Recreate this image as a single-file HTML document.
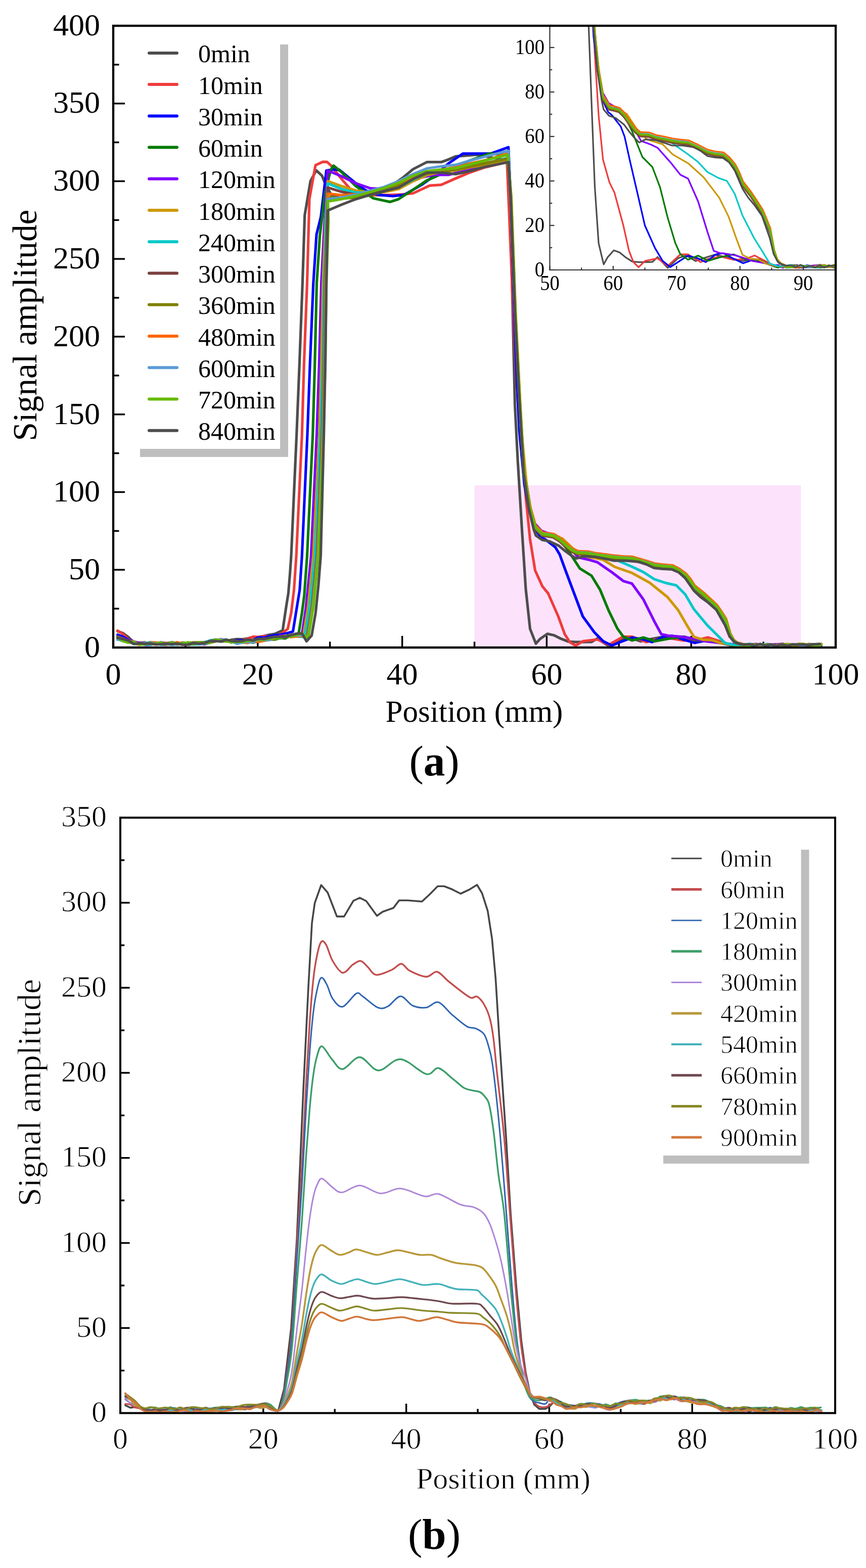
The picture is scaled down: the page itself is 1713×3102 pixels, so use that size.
<!DOCTYPE html><html><head><meta charset="utf-8"><title>Signal amplitude vs position</title><style>html,body{margin:0;padding:0;background:#fff;width:1713px;height:3102px;overflow:hidden}</style></head><body><svg width="1713" height="3102" viewBox="0 0 1713 3102" style="display:block">
<rect width="1713" height="3102" fill="#fff"/>
<rect x="938.5" y="960.0" width="645.9" height="321.0" fill="#fce3fb"/>
<rect x="224.0" y="51.0" width="1429.0" height="1230.0" fill="none" stroke="#000" stroke-width="4.2"/>
<g stroke="#000" stroke-width="3.4">
<line x1="224.0" y1="1204.1" x2="235.5" y2="1204.1"/>
<line x1="224.0" y1="1127.2" x2="247.0" y2="1127.2"/>
<line x1="224.0" y1="1050.4" x2="235.5" y2="1050.4"/>
<line x1="224.0" y1="973.5" x2="247.0" y2="973.5"/>
<line x1="224.0" y1="896.6" x2="235.5" y2="896.6"/>
<line x1="224.0" y1="819.8" x2="247.0" y2="819.8"/>
<line x1="224.0" y1="742.9" x2="235.5" y2="742.9"/>
<line x1="224.0" y1="666.0" x2="247.0" y2="666.0"/>
<line x1="224.0" y1="589.1" x2="235.5" y2="589.1"/>
<line x1="224.0" y1="512.2" x2="247.0" y2="512.2"/>
<line x1="224.0" y1="435.4" x2="235.5" y2="435.4"/>
<line x1="224.0" y1="358.5" x2="247.0" y2="358.5"/>
<line x1="224.0" y1="281.6" x2="235.5" y2="281.6"/>
<line x1="224.0" y1="204.8" x2="247.0" y2="204.8"/>
<line x1="224.0" y1="127.9" x2="235.5" y2="127.9"/>
<line x1="366.9" y1="1281.0" x2="366.9" y2="1269.5"/>
<line x1="509.8" y1="1281.0" x2="509.8" y2="1258.0"/>
<line x1="652.7" y1="1281.0" x2="652.7" y2="1269.5"/>
<line x1="795.6" y1="1281.0" x2="795.6" y2="1258.0"/>
<line x1="938.5" y1="1281.0" x2="938.5" y2="1269.5"/>
<line x1="1081.4" y1="1281.0" x2="1081.4" y2="1258.0"/>
<line x1="1224.3" y1="1281.0" x2="1224.3" y2="1269.5"/>
<line x1="1367.2" y1="1281.0" x2="1367.2" y2="1258.0"/>
<line x1="1510.1" y1="1281.0" x2="1510.1" y2="1269.5"/>
</g>
<g fill="none" stroke-width="5.2" stroke-linejoin="round" stroke-linecap="round">
<polyline stroke="#4d4d4d" points="232.6,1248.7 243.3,1252.7 254.0,1260.6 264.7,1270.7 275.4,1273.0 286.2,1273.3 296.9,1272.3 307.6,1271.6 318.3,1275.0 329.0,1275.3 339.7,1271.4 350.5,1273.3 361.2,1271.7 371.9,1275.5 382.6,1273.3 393.3,1271.9 404.1,1273.9 414.8,1267.4 425.5,1265.5 436.2,1269.2 446.9,1268.4 457.6,1265.9 468.4,1264.3 479.1,1264.7 489.8,1263.1 500.5,1260.2 511.2,1260.7 521.9,1258.3 532.7,1255.8 543.4,1254.1 559.1,1247.2 566.0,1201.0 570.4,1173.4 573.7,1133.4 576.0,1099.6 586.7,859.7 592.3,721.4 598.4,559.9 602.7,426.1 614.1,358.5 625.5,337.0 637.0,347.7 644.1,365.3 655.6,386.2 674.1,392.3 695.6,390.8 724.1,384.6 752.7,377.0 777.0,365.6 795.6,352.4 817.0,334.8 844.2,320.7 872.8,320.7 887.1,315.5 901.3,309.3 918.5,308.1 942.8,306.2 967.1,310.8 1002.8,317.0 1007.1,358.5 1010.0,438.5 1018.5,801.3 1024.2,912.0 1032.8,1053.5 1040.0,1165.4 1048.5,1244.1 1060.0,1273.3 1068.5,1263.8 1082.8,1253.9 1095.7,1256.7 1110.0,1263.8 1124.3,1269.3 1138.6,1270.2 1152.8,1270.2 1170.0,1269.9 1181.4,1263.2 1204.3,1278.2 1227.2,1265.0 1245.7,1261.0 1267.2,1268.7 1288.6,1264.1 1310.0,1260.1 1331.5,1262.5 1352.9,1265.6 1374.3,1268.7 1395.8,1265.6 1417.2,1267.2 1438.7,1273.3 1460.1,1276.4 1471.5,1276.3 1482.2,1275.8 1493.0,1274.3 1503.7,1276.2 1514.4,1276.0 1525.1,1275.7 1535.8,1277.4 1546.5,1276.0 1557.3,1275.5 1568.0,1274.8 1578.7,1277.8 1589.4,1276.9 1600.1,1277.8 1610.8,1274.7 1621.6,1275.2"/>
<polyline stroke="#f03c3c" points="232.6,1247.7 243.3,1254.4 254.0,1265.4 264.7,1271.9 275.4,1271.4 286.2,1271.8 296.9,1272.2 307.6,1273.9 318.3,1272.5 329.0,1272.5 339.7,1272.6 350.5,1274.7 361.2,1273.3 371.9,1273.5 382.6,1271.9 393.3,1270.6 404.1,1270.4 414.8,1269.3 425.5,1267.7 436.2,1268.0 446.9,1268.6 457.6,1269.0 468.4,1267.6 479.1,1266.3 489.8,1264.0 500.5,1259.7 511.2,1260.1 521.9,1258.5 532.7,1258.6 543.4,1258.3 554.1,1255.3 569.2,1244.1 576.0,1212.4 581.5,1167.2 586.1,1099.6 597.3,859.7 601.3,721.4 607.5,559.9 612.0,393.6 624.1,326.8 638.4,320.1 647.0,320.4 655.6,328.4 674.1,352.4 695.6,377.0 724.1,386.2 752.7,386.2 777.0,385.3 795.6,384.6 817.0,382.5 849.9,367.1 872.8,365.6 901.3,353.0 928.5,341.6 957.1,331.7 1002.8,320.7 1007.1,420.0 1017.1,666.0 1025.7,819.8 1032.8,884.3 1040.0,982.7 1048.5,1067.0 1058.5,1128.5 1072.8,1159.8 1084.3,1174.0 1104.3,1219.5 1117.1,1254.6 1127.1,1270.2 1138.6,1277.3 1152.8,1268.7 1181.4,1265.0 1204.3,1275.5 1232.9,1259.5 1250.0,1259.5 1278.6,1270.2 1295.8,1265.6 1324.3,1262.5 1352.9,1267.2 1381.5,1265.6 1400.1,1261.0 1424.4,1268.7 1445.8,1276.4 1457.2,1276.2 1467.9,1275.4 1478.7,1275.4 1489.4,1277.6 1500.1,1278.2 1510.8,1276.6 1521.5,1277.1 1532.2,1274.7 1543.0,1275.3 1553.7,1275.6 1564.4,1275.8 1575.1,1275.4 1585.8,1277.6 1596.6,1276.3 1607.3,1277.5 1618.0,1274.3"/>
<polyline stroke="#0000ff" points="232.6,1255.8 243.3,1259.7 254.0,1265.8 264.7,1270.0 275.4,1272.4 286.2,1275.1 296.9,1275.4 307.6,1271.3 318.3,1274.2 329.0,1274.3 339.7,1270.6 350.5,1273.2 361.2,1271.3 371.9,1273.1 382.6,1272.3 393.3,1274.7 404.1,1271.9 414.8,1267.8 425.5,1267.4 436.2,1265.7 446.9,1265.8 457.6,1269.7 468.4,1267.4 479.1,1266.7 489.8,1266.6 500.5,1266.4 511.2,1260.9 521.9,1261.4 532.7,1258.7 543.4,1256.5 554.1,1255.9 564.8,1253.4 579.4,1249.6 587.3,1201.0 592.8,1167.2 597.3,1099.6 608.0,859.7 613.1,721.4 619.8,559.9 626.1,463.7 634.8,428.6 645.6,337.3 659.8,335.4 671.3,336.1 704.1,362.8 724.1,377.0 747.0,385.3 777.0,388.0 799.9,385.3 834.2,365.6 861.3,346.2 887.1,323.4 915.6,303.8 942.8,303.8 971.4,303.8 1005.7,291.2 1010.0,389.2 1018.5,666.0 1027.1,850.5 1037.1,958.1 1047.1,1010.4 1058.5,1047.3 1070.0,1062.7 1078.5,1067.0 1098.5,1082.7 1107.1,1096.8 1118.6,1128.5 1135.7,1174.0 1152.8,1219.5 1175.7,1250.9 1192.9,1268.4 1210.0,1277.0 1227.2,1270.2 1250.0,1261.3 1272.9,1265.0 1290.0,1270.2 1312.9,1259.5 1330.0,1257.9 1352.9,1265.6 1374.3,1271.8 1395.8,1267.2 1424.4,1271.8 1445.8,1276.4 1457.2,1277.1 1467.9,1275.3 1478.7,1275.3 1489.4,1274.6 1500.1,1277.4 1510.8,1277.2 1521.5,1277.6 1532.2,1277.3 1543.0,1275.1 1553.7,1277.7 1564.4,1275.9 1575.1,1277.3 1585.8,1277.0 1596.6,1276.4 1607.3,1274.6 1618.0,1275.6"/>
<polyline stroke="#007a00" points="232.6,1258.9 243.3,1264.0 254.0,1267.0 264.7,1272.6 275.4,1275.1 286.2,1273.5 296.9,1270.9 307.6,1271.5 318.3,1271.7 329.0,1274.4 339.7,1272.8 350.5,1274.1 361.2,1274.6 371.9,1274.9 382.6,1274.4 393.3,1270.9 404.1,1271.0 414.8,1268.1 425.5,1266.0 436.2,1268.4 446.9,1268.4 457.6,1268.7 468.4,1270.3 479.1,1269.1 489.8,1268.4 500.5,1271.4 511.2,1267.4 521.9,1265.6 532.7,1265.0 543.4,1265.2 554.1,1262.3 564.8,1262.8 575.5,1257.2 590.5,1255.2 597.3,1212.4 601.8,1178.6 607.5,1099.6 618.7,859.7 622.7,721.4 626.5,559.9 632.7,466.1 642.7,383.1 654.1,336.1 659.8,327.8 675.6,340.4 704.1,368.3 738.4,392.3 771.3,399.4 788.5,393.9 817.0,375.4 844.2,357.0 872.8,344.4 901.3,330.5 928.5,317.9 968.5,303.8 1005.7,306.5 1010.0,389.2 1020.0,666.0 1030.0,850.5 1040.0,948.9 1050.0,1010.4 1061.4,1047.3 1078.5,1059.6 1095.7,1062.7 1112.8,1075.0 1124.3,1089.7 1147.1,1124.8 1170.0,1138.9 1187.1,1166.9 1204.3,1208.7 1221.4,1243.8 1232.9,1259.5 1250.0,1266.9 1272.9,1261.3 1295.8,1268.4 1324.3,1263.2 1352.9,1259.5 1381.5,1266.9 1410.1,1268.7 1438.7,1274.8 1452.9,1277.8 1463.7,1275.2 1474.4,1275.4 1485.1,1274.2 1495.8,1277.1 1506.5,1277.1 1517.2,1275.1 1528.0,1275.4 1538.7,1276.9 1549.4,1275.3 1560.1,1276.5 1570.8,1274.9 1581.5,1277.7 1592.3,1277.3 1603.0,1274.4 1613.7,1276.7 1624.4,1277.1"/>
<polyline stroke="#8000ff" points="232.6,1260.1 243.3,1263.1 254.0,1266.3 264.7,1269.2 275.4,1271.8 286.2,1270.9 296.9,1275.3 307.6,1273.2 318.3,1270.8 329.0,1272.3 339.7,1271.0 350.5,1274.9 361.2,1273.2 371.9,1274.3 382.6,1272.8 393.3,1272.6 404.1,1275.0 414.8,1271.0 425.5,1268.6 436.2,1264.8 446.9,1265.8 457.6,1270.2 468.4,1268.8 479.1,1271.1 489.8,1267.8 500.5,1269.0 511.2,1268.2 521.9,1262.5 532.7,1264.3 543.4,1262.9 554.1,1257.6 564.8,1256.8 575.5,1258.2 586.3,1253.5 597.0,1257.3 605.3,1201.0 612.0,1133.4 615.3,1099.6 626.5,859.7 631.3,721.4 635.6,559.9 641.3,450.8 648.4,337.6 675.6,348.7 704.1,362.8 732.7,372.6 759.9,373.9 788.5,365.6 831.3,351.4 858.5,345.9 887.1,345.9 928.5,334.8 1005.7,319.1 1010.0,389.2 1018.5,635.2 1028.5,819.8 1038.5,942.8 1047.1,1004.2 1057.1,1035.0 1071.4,1050.4 1088.5,1056.5 1110.0,1068.8 1130.0,1087.3 1144.3,1102.7 1167.1,1107.9 1181.4,1112.2 1210.0,1131.9 1232.9,1149.4 1250.0,1154.6 1272.9,1186.3 1293.9,1228.4 1308.0,1254.6 1321.5,1257.6 1338.6,1258.9 1355.8,1260.7 1372.9,1263.8 1395.8,1268.7 1424.4,1271.8 1438.7,1274.8 1452.9,1274.1 1463.7,1278.2 1474.4,1275.1 1485.1,1277.6 1495.8,1274.0 1506.5,1278.2 1517.2,1274.4 1528.0,1275.3 1538.7,1274.5 1549.4,1273.9 1560.1,1277.2 1570.8,1276.8 1581.5,1275.2 1592.3,1277.0 1603.0,1277.1 1613.7,1277.2 1624.4,1274.5"/>
<polyline stroke="#cc9900" points="232.6,1260.8 243.3,1263.8 254.0,1268.5 264.7,1272.7 275.4,1275.5 286.2,1272.2 296.9,1273.2 307.6,1271.7 318.3,1273.6 329.0,1271.7 339.7,1274.1 350.5,1271.5 361.2,1271.9 371.9,1273.4 382.6,1272.8 393.3,1272.1 404.1,1274.1 414.8,1269.3 425.5,1266.0 436.2,1268.0 446.9,1265.7 457.6,1267.9 468.4,1268.9 479.1,1270.6 489.8,1270.9 500.5,1266.3 511.2,1264.9 521.9,1265.2 532.7,1265.5 543.4,1263.6 554.1,1260.0 564.8,1260.2 575.5,1255.6 586.3,1255.9 599.8,1259.2 609.4,1201.0 619.8,1099.6 631.6,859.7 635.6,721.4 638.8,559.9 644.1,435.4 648.4,358.5 675.6,368.3 704.1,377.0 732.7,380.9 759.9,380.0 788.5,373.9 817.0,358.5 845.6,346.2 874.2,340.0 902.8,337.0 931.4,330.8 967.1,324.7 1004.2,315.5 1010.0,389.2 1021.4,666.0 1031.4,850.5 1041.4,958.1 1050.0,1016.5 1061.4,1047.3 1078.5,1056.5 1095.7,1059.6 1112.8,1065.8 1135.7,1087.3 1158.6,1100.8 1192.9,1107.3 1215.7,1121.4 1250.0,1133.4 1285.0,1152.8 1320.3,1181.1 1341.5,1207.2 1358.9,1237.3 1372.9,1260.1 1390.5,1265.6 1408.6,1266.5 1425.8,1272.4 1445.8,1275.5 1464.4,1276.7 1475.1,1276.2 1485.8,1276.4 1496.5,1276.3 1507.2,1276.5 1518.0,1275.4 1528.7,1277.1 1539.4,1275.5 1550.1,1278.2 1560.8,1276.9 1571.5,1276.8 1582.3,1277.6 1593.0,1275.0 1603.7,1276.9 1614.4,1274.8 1625.1,1274.1"/>
<polyline stroke="#00c8c8" points="232.6,1264.6 243.3,1268.2 254.0,1268.4 264.7,1273.9 275.4,1272.8 286.2,1273.7 296.9,1275.2 307.6,1273.0 318.3,1275.3 329.0,1273.3 339.7,1275.1 350.5,1275.0 361.2,1273.4 371.9,1271.4 382.6,1274.9 393.3,1274.4 404.1,1271.9 414.8,1267.4 425.5,1267.1 436.2,1267.4 446.9,1265.0 457.6,1271.2 468.4,1269.2 479.1,1271.2 489.8,1271.2 500.5,1270.3 511.2,1267.9 521.9,1264.0 532.7,1265.7 543.4,1262.3 554.1,1260.6 564.8,1260.5 575.5,1258.2 586.3,1259.1 602.7,1260.1 612.7,1201.0 623.3,1099.6 634.1,859.7 638.4,721.4 641.3,559.9 645.6,420.0 648.4,362.8 675.6,373.9 704.1,380.9 732.7,381.6 759.9,377.0 788.5,370.8 817.0,355.4 845.6,343.1 874.2,337.0 902.8,333.9 931.4,327.8 967.1,321.6 1004.2,312.4 1010.0,389.2 1018.5,619.9 1027.1,789.0 1035.7,936.6 1045.7,999.6 1057.8,1042.7 1072.1,1056.5 1084.3,1058.1 1094.3,1059.9 1105.7,1066.7 1117.1,1077.1 1130.0,1087.6 1141.4,1093.4 1161.4,1094.0 1177.9,1097.7 1210.0,1103.9 1250.0,1121.1 1272.9,1131.9 1293.9,1145.7 1317.2,1153.4 1337.8,1158.0 1355.3,1175.8 1372.9,1205.7 1399.4,1237.3 1416.9,1254.6 1434.5,1272.4 1451.5,1275.5 1461.5,1276.0 1472.2,1274.8 1482.9,1274.1 1493.7,1277.0 1504.4,1274.9 1515.1,1275.2 1525.8,1275.4 1536.5,1277.8 1547.3,1278.1 1558.0,1276.6 1568.7,1275.0 1579.4,1277.1 1590.1,1276.1 1600.8,1276.9 1611.6,1274.6 1622.3,1274.2"/>
<polyline stroke="#7b3f3f" points="232.6,1265.3 243.3,1265.6 254.0,1269.9 264.7,1273.2 275.4,1273.1 286.2,1273.0 296.9,1273.1 307.6,1273.2 318.3,1274.2 329.0,1274.2 339.7,1272.1 350.5,1273.9 361.2,1272.1 371.9,1271.6 382.6,1271.2 393.3,1270.8 404.1,1273.9 414.8,1270.9 425.5,1266.3 436.2,1266.5 446.9,1268.8 457.6,1268.2 468.4,1269.3 479.1,1268.8 489.8,1271.1 500.5,1269.7 511.2,1269.7 521.9,1263.5 532.7,1265.8 543.4,1261.9 554.1,1261.4 564.8,1259.7 575.5,1258.6 586.3,1255.7 597.0,1255.3 607.0,1261.9 617.0,1201.0 627.0,1099.6 637.0,859.7 640.6,721.4 642.7,559.9 647.0,435.4 648.4,371.1 675.6,379.4 704.1,385.3 732.7,383.1 759.9,377.0 788.5,366.2 817.0,353.9 845.6,343.1 874.2,338.5 902.8,335.4 931.4,329.3 967.1,321.6 1004.2,313.9 1010.0,389.2 1018.5,619.9 1027.1,789.0 1035.7,936.6 1045.7,1002.7 1057.8,1045.8 1072.1,1059.6 1084.3,1061.1 1094.3,1063.0 1105.7,1069.7 1117.1,1080.2 1130.0,1090.7 1141.4,1096.5 1161.4,1097.1 1177.9,1100.8 1195.7,1103.0 1214.3,1105.4 1231.4,1107.0 1250.0,1107.9 1271.5,1114.0 1293.9,1121.1 1310.0,1123.3 1329.0,1124.8 1341.5,1130.9 1355.3,1141.1 1364.3,1151.8 1372.9,1165.1 1390.5,1178.9 1402.9,1190.3 1416.9,1203.5 1425.8,1216.4 1434.5,1230.0 1443.2,1254.9 1450.1,1267.5 1457.2,1272.7 1467.2,1275.2 1471.5,1277.7 1482.2,1277.7 1493.0,1275.7 1503.7,1277.5 1514.4,1277.7 1525.1,1276.2 1535.8,1276.4 1546.5,1277.3 1557.3,1276.5 1568.0,1274.6 1578.7,1277.7 1589.4,1277.4 1600.1,1278.1 1610.8,1277.2 1621.6,1277.8"/>
<polyline stroke="#808000" points="232.6,1262.9 243.3,1265.0 254.0,1269.0 264.7,1271.7 275.4,1273.5 286.2,1270.6 296.9,1274.0 307.6,1274.7 318.3,1274.2 329.0,1274.2 339.7,1273.9 350.5,1274.1 361.2,1274.9 371.9,1273.9 382.6,1273.9 393.3,1272.7 404.1,1274.0 414.8,1271.7 425.5,1268.9 436.2,1266.7 446.9,1267.9 457.6,1267.9 468.4,1269.6 479.1,1270.8 489.8,1271.7 500.5,1267.6 511.2,1266.0 521.9,1266.4 532.7,1263.6 543.4,1264.0 554.1,1259.5 564.8,1258.5 575.5,1257.3 586.3,1255.0 597.0,1257.2 607.7,1261.9 617.7,1201.0 627.7,1099.6 637.7,859.7 641.3,721.4 643.4,559.9 647.7,435.4 648.4,389.6 675.6,392.3 704.1,391.1 732.7,386.2 759.9,378.5 788.5,366.2 817.0,353.9 845.6,343.1 874.2,338.5 902.8,335.4 931.4,329.3 967.1,321.6 1004.2,313.9 1010.7,389.2 1019.2,619.9 1027.8,789.0 1036.4,936.6 1046.4,1001.2 1058.5,1044.2 1072.8,1058.1 1085.0,1059.6 1095.0,1061.4 1106.4,1068.2 1117.8,1078.7 1130.7,1089.1 1142.1,1095.0 1162.1,1095.6 1178.6,1099.3 1196.4,1101.4 1215.0,1103.9 1232.2,1105.4 1250.7,1106.3 1272.2,1112.5 1294.6,1119.6 1310.8,1121.7 1329.8,1123.3 1342.2,1129.4 1356.1,1139.5 1365.1,1150.3 1373.6,1163.5 1391.2,1177.4 1403.6,1188.8 1417.6,1202.0 1426.5,1214.9 1435.2,1228.4 1443.9,1254.6 1450.8,1267.2 1457.9,1272.4 1467.9,1274.8 1471.5,1275.9 1482.2,1276.7 1493.0,1274.6 1503.7,1277.0 1514.4,1276.0 1525.1,1276.8 1535.8,1276.4 1546.5,1274.0 1557.3,1277.8 1568.0,1276.3 1578.7,1277.3 1589.4,1276.7 1600.1,1273.9 1610.8,1276.8 1621.6,1275.6"/>
<polyline stroke="#ff6600" points="232.6,1261.8 243.3,1265.5 254.0,1267.8 264.7,1269.8 275.4,1274.2 286.2,1272.3 296.9,1271.0 307.6,1271.2 318.3,1272.6 329.0,1274.6 339.7,1273.4 350.5,1270.6 361.2,1275.0 371.9,1273.9 382.6,1270.8 393.3,1273.3 404.1,1274.0 414.8,1270.5 425.5,1265.5 436.2,1267.7 446.9,1267.7 457.6,1268.5 468.4,1269.6 479.1,1270.5 489.8,1271.8 500.5,1268.3 511.2,1269.6 521.9,1267.8 532.7,1265.9 543.4,1262.0 554.1,1262.6 564.8,1259.2 575.5,1260.4 586.3,1259.2 597.0,1258.2 608.4,1261.9 618.4,1201.0 628.4,1099.6 638.4,859.7 642.0,721.4 644.1,559.9 648.4,435.4 648.4,383.1 675.6,386.2 704.1,384.6 732.7,380.0 759.9,370.8 788.5,361.6 817.0,349.3 845.6,340.0 874.2,335.4 902.8,330.8 931.4,323.1 967.1,315.5 1004.2,303.1 1011.4,389.2 1020.0,619.9 1028.5,789.0 1037.1,936.6 1047.1,996.6 1059.3,1039.6 1073.5,1053.5 1085.7,1055.0 1095.7,1056.8 1107.1,1063.6 1118.6,1074.1 1131.4,1084.5 1142.8,1090.3 1162.9,1091.0 1179.3,1094.7 1197.1,1096.8 1215.7,1099.3 1232.9,1100.8 1251.5,1101.7 1272.9,1107.9 1295.3,1115.0 1311.5,1117.1 1330.5,1118.6 1342.9,1124.8 1356.8,1134.9 1365.8,1145.7 1374.3,1158.9 1391.9,1172.8 1404.4,1184.1 1418.4,1197.4 1427.2,1210.3 1435.9,1223.8 1444.7,1253.6 1451.5,1266.2 1458.7,1271.5 1468.7,1273.9 1471.5,1275.9 1482.2,1277.0 1493.0,1278.1 1503.7,1275.4 1514.4,1277.3 1525.1,1277.1 1535.8,1276.5 1546.5,1275.5 1557.3,1274.0 1568.0,1276.2 1578.7,1274.0 1589.4,1274.0 1600.1,1277.2 1610.8,1277.9 1621.6,1277.5"/>
<polyline stroke="#5b9bd5" points="232.6,1265.4 243.3,1265.5 254.0,1268.4 264.7,1271.9 275.4,1274.4 286.2,1271.6 296.9,1271.5 307.6,1272.9 318.3,1273.0 329.0,1274.3 339.7,1275.4 350.5,1273.6 361.2,1272.6 371.9,1275.1 382.6,1271.6 393.3,1274.3 404.1,1273.9 414.8,1271.8 425.5,1265.0 436.2,1265.7 446.9,1265.5 457.6,1268.5 468.4,1273.4 479.1,1271.3 489.8,1269.8 500.5,1270.6 511.2,1265.1 521.9,1266.5 532.7,1266.1 543.4,1261.4 554.1,1263.4 564.8,1258.0 575.5,1258.9 586.3,1257.0 597.0,1256.6 609.1,1261.9 619.1,1201.0 629.1,1099.6 639.1,859.7 642.7,721.4 644.8,559.9 649.1,435.4 648.4,393.9 675.6,390.8 704.1,385.3 732.7,377.0 759.9,369.9 788.5,358.5 817.0,344.4 844.2,333.3 872.8,329.0 901.3,326.2 928.5,317.9 967.1,307.8 1005.7,298.2 1010.0,389.2 1018.5,619.9 1027.1,789.0 1035.7,936.6 1045.7,998.7 1057.8,1041.8 1072.1,1055.6 1084.3,1057.1 1094.3,1059.0 1105.7,1065.8 1117.1,1076.2 1130.0,1086.7 1141.4,1092.5 1161.4,1093.1 1177.9,1096.8 1195.7,1099.0 1214.3,1101.4 1231.4,1103.0 1250.0,1103.9 1271.5,1110.0 1293.9,1117.1 1310.0,1119.3 1329.0,1120.8 1341.5,1126.9 1355.3,1137.1 1364.3,1147.9 1372.9,1161.1 1390.5,1174.9 1402.9,1186.3 1416.9,1199.5 1425.8,1212.4 1434.5,1226.0 1443.2,1254.1 1450.1,1266.7 1457.2,1271.9 1467.2,1274.4 1471.5,1278.2 1482.2,1277.7 1493.0,1276.5 1503.7,1275.3 1514.4,1277.6 1525.1,1277.7 1535.8,1277.2 1546.5,1275.0 1557.3,1277.6 1568.0,1275.0 1578.7,1275.4 1589.4,1277.6 1600.1,1275.9 1610.8,1276.3 1621.6,1276.5"/>
<polyline stroke="#66bb00" points="232.6,1261.5 243.3,1268.2 254.0,1271.4 264.7,1269.3 275.4,1274.6 286.2,1274.9 296.9,1272.3 307.6,1273.8 318.3,1271.1 329.0,1274.3 339.7,1270.7 350.5,1273.9 361.2,1272.5 371.9,1270.9 382.6,1272.1 393.3,1270.9 404.1,1271.6 414.8,1271.8 425.5,1265.6 436.2,1266.4 446.9,1268.3 457.6,1270.6 468.4,1269.4 479.1,1270.0 489.8,1267.6 500.5,1267.4 511.2,1265.0 521.9,1265.5 532.7,1263.4 543.4,1262.4 554.1,1262.7 564.8,1257.9 575.5,1259.6 586.3,1255.9 597.0,1253.6 609.8,1261.9 619.8,1201.0 629.8,1099.6 639.8,859.7 643.4,721.4 645.6,559.9 649.8,435.4 648.4,398.5 675.6,393.9 704.1,387.7 732.7,380.0 759.9,372.3 788.5,361.6 817.0,347.7 845.6,338.5 874.2,335.4 902.8,332.4 931.4,324.7 967.1,315.5 1004.2,306.2 1011.1,389.2 1019.7,619.9 1028.2,789.0 1036.8,936.6 1046.8,999.6 1059.0,1042.7 1073.3,1056.5 1085.4,1058.1 1095.4,1059.9 1106.8,1066.7 1118.3,1077.1 1131.1,1087.6 1142.6,1093.4 1162.6,1094.0 1179.0,1097.7 1196.9,1099.9 1215.4,1102.3 1232.6,1103.9 1251.2,1104.8 1272.6,1111.0 1295.0,1118.0 1311.2,1120.2 1330.2,1121.7 1342.6,1127.9 1356.5,1138.0 1365.5,1148.8 1374.1,1162.0 1391.6,1175.8 1404.1,1187.2 1418.1,1200.4 1426.9,1213.3 1435.6,1226.9 1444.4,1254.2 1451.2,1266.9 1458.4,1272.1 1468.4,1274.5 1471.5,1277.9 1482.2,1277.3 1493.0,1276.9 1503.7,1274.4 1514.4,1276.1 1525.1,1275.1 1535.8,1277.8 1546.5,1276.0 1557.3,1274.6 1568.0,1276.0 1578.7,1274.2 1589.4,1274.4 1600.1,1276.6 1610.8,1278.2 1621.6,1275.0"/>
<polyline stroke="#4d4d4d" points="232.6,1261.7 243.3,1264.2 254.0,1267.2 264.7,1273.8 275.4,1272.6 286.2,1273.4 296.9,1272.9 307.6,1274.8 318.3,1274.5 329.0,1273.3 339.7,1274.4 350.5,1273.2 361.2,1275.3 371.9,1275.0 382.6,1272.0 393.3,1273.4 404.1,1272.5 414.8,1268.4 425.5,1268.2 436.2,1269.0 446.9,1265.6 457.6,1267.8 468.4,1269.0 479.1,1268.1 489.8,1265.2 500.5,1266.9 511.2,1263.5 521.9,1264.0 532.7,1261.6 543.4,1259.7 554.1,1260.0 564.8,1259.7 575.5,1256.4 586.3,1253.7 597.0,1252.9 606.3,1268.7 616.5,1257.3 624.3,1212.4 630.0,1156.2 634.4,1099.6 640.6,859.7 643.4,721.4 645.6,559.9 648.4,416.3 675.6,404.9 704.1,393.9 732.7,385.3 759.9,378.2 788.5,371.1 817.0,354.2 844.2,341.6 872.8,341.6 901.3,344.4 928.5,338.8 957.1,330.5 1005.7,320.7 1010.0,389.2 1018.5,619.9 1027.1,789.0 1035.7,936.6 1045.7,1004.2 1055.7,1047.3 1060.0,1059.3 1072.1,1067.9 1087.1,1071.0 1105.7,1079.9 1117.8,1090.0 1130.0,1099.0 1140.0,1104.8 1154.3,1100.5 1177.9,1101.7 1201.4,1106.3 1214.3,1109.1 1237.9,1109.1 1262.9,1111.3 1278.6,1116.5 1293.9,1123.6 1310.0,1125.4 1329.0,1126.3 1342.9,1132.5 1355.3,1143.5 1372.9,1168.8 1385.8,1181.1 1399.4,1190.9 1416.9,1206.3 1425.8,1222.0 1434.5,1237.3 1443.2,1259.2 1452.9,1270.2 1462.9,1273.6 1471.5,1275.2 1482.2,1274.6 1493.0,1277.4 1503.7,1273.9 1514.4,1277.4 1525.1,1275.3 1535.8,1277.8 1546.5,1275.0 1557.3,1277.6 1568.0,1275.2 1578.7,1275.1 1589.4,1274.9 1600.1,1276.3 1610.8,1274.5 1621.6,1274.0"/>
</g>
<rect x="277" y="88" width="293" height="816" fill="#bebebe"/>
<rect x="261" y="72" width="293" height="816" fill="#fff"/>
<g style="font-family:'Liberation Serif',serif" font-size="50" fill="#000">
<line x1="295" y1="104.9" x2="350" y2="104.9" stroke="#4d4d4d" stroke-width="6" stroke-linecap="round"/>
<text x="392" y="123.4">0min</text>
<line x1="295" y1="167.1" x2="350" y2="167.1" stroke="#f03c3c" stroke-width="6" stroke-linecap="round"/>
<text x="392" y="185.6">10min</text>
<line x1="295" y1="229.4" x2="350" y2="229.4" stroke="#0000ff" stroke-width="6" stroke-linecap="round"/>
<text x="392" y="247.9">30min</text>
<line x1="295" y1="291.6" x2="350" y2="291.6" stroke="#007a00" stroke-width="6" stroke-linecap="round"/>
<text x="392" y="310.1">60min</text>
<line x1="295" y1="353.8" x2="350" y2="353.8" stroke="#8000ff" stroke-width="6" stroke-linecap="round"/>
<text x="392" y="372.3">120min</text>
<line x1="295" y1="416.0" x2="350" y2="416.0" stroke="#cc9900" stroke-width="6" stroke-linecap="round"/>
<text x="392" y="434.5">180min</text>
<line x1="295" y1="478.3" x2="350" y2="478.3" stroke="#00c8c8" stroke-width="6" stroke-linecap="round"/>
<text x="392" y="496.8">240min</text>
<line x1="295" y1="540.5" x2="350" y2="540.5" stroke="#7b3f3f" stroke-width="6" stroke-linecap="round"/>
<text x="392" y="559.0">300min</text>
<line x1="295" y1="602.7" x2="350" y2="602.7" stroke="#808000" stroke-width="6" stroke-linecap="round"/>
<text x="392" y="621.2">360min</text>
<line x1="295" y1="665.0" x2="350" y2="665.0" stroke="#ff6600" stroke-width="6" stroke-linecap="round"/>
<text x="392" y="683.5">480min</text>
<line x1="295" y1="727.2" x2="350" y2="727.2" stroke="#5b9bd5" stroke-width="6" stroke-linecap="round"/>
<text x="392" y="745.7">600min</text>
<line x1="295" y1="789.4" x2="350" y2="789.4" stroke="#66bb00" stroke-width="6" stroke-linecap="round"/>
<text x="392" y="807.9">720min</text>
<line x1="295" y1="851.7" x2="350" y2="851.7" stroke="#4d4d4d" stroke-width="6" stroke-linecap="round"/>
<text x="392" y="870.2">840min</text>
</g>
<rect x="1087.5" y="51.0" width="565.5" height="483.0" fill="#fff"/>
<clipPath id="ic"><rect x="1087.5" y="51.0" width="565.5" height="483.0"/></clipPath>
<g clip-path="url(#ic)" fill="none" stroke-width="3.2" stroke-linejoin="round" stroke-linecap="round">
<polyline stroke="#4d4d4d" points="1091.3,-860.8 1112.6,-854.2 1143.9,-845.4 1147.7,-786.0 1150.2,-671.6 1157.7,-152.4 1162.7,6.0 1170.3,208.4 1176.5,368.6 1184.1,481.2 1194.1,523.0 1201.6,509.4 1214.2,495.3 1225.4,499.2 1238.0,509.4 1250.5,517.3 1263.1,518.6 1275.6,518.6 1290.6,518.2 1300.7,508.5 1320.7,530.0 1340.8,511.1 1357.1,505.4 1375.9,516.4 1394.7,509.8 1413.5,504.1 1432.3,507.6 1451.2,512.0 1470.0,516.4 1488.8,512.0 1507.6,514.2 1526.4,523.0 1545.2,527.4 1555.2,527.3 1564.6,526.6 1574.1,524.3 1583.5,527.2 1592.9,526.9 1602.3,526.4 1611.7,528.9 1621.1,526.9 1630.5,526.2 1639.9,525.2 1649.3,529.5 1658.7,528.2 1668.1,529.5"/>
<polyline stroke="#f03c3c" points="1078.7,-810.2 1103.8,-824.3 1143.9,-840.1 1147.7,-698.0 1156.5,-346.0 1164.0,-126.0 1170.3,-33.6 1176.5,107.2 1184.1,227.8 1192.8,315.8 1205.4,360.6 1215.4,380.9 1233.0,446.0 1244.2,496.2 1253.0,518.6 1263.1,528.7 1275.6,516.4 1300.7,511.1 1320.7,526.1 1345.8,503.2 1360.9,503.2 1386.0,518.6 1401.0,512.0 1426.1,507.6 1451.2,514.2 1476.2,512.0 1492.5,505.4 1513.9,516.4 1532.7,527.4 1542.7,527.1 1552.1,526.0 1561.5,525.9 1570.9,529.2 1580.3,530.0 1589.7,527.7 1599.1,528.4 1608.5,525.0 1617.9,525.8 1627.3,526.3 1636.8,526.6 1646.2,526.0 1655.6,529.1 1665.0,527.3 1674.4,529.0"/>
<polyline stroke="#0000ff" points="1091.3,-864.3 1116.3,-864.3 1146.4,-882.4 1150.2,-742.0 1157.7,-346.0 1165.2,-82.0 1174.0,72.0 1182.8,146.8 1192.8,199.6 1202.9,221.6 1210.4,227.8 1227.9,250.2 1235.5,270.4 1245.5,315.8 1260.6,380.9 1275.6,446.0 1295.7,490.9 1310.7,516.0 1325.8,528.3 1340.8,518.6 1360.9,505.8 1380.9,511.1 1396.0,518.6 1416.0,503.2 1431.1,501.0 1451.2,512.0 1470.0,520.8 1488.8,514.2 1513.9,520.8 1532.7,527.4 1542.7,528.4 1552.1,525.8 1561.5,525.8 1570.9,524.8 1580.3,528.9 1589.7,528.6 1599.1,529.1 1608.5,528.7 1617.9,525.5 1627.3,529.2 1636.8,526.8 1646.2,528.7 1655.6,528.2 1665.0,527.4 1674.4,524.9"/>
<polyline stroke="#007a00" points="1078.7,-844.1 1113.8,-864.3 1146.4,-860.4 1150.2,-742.0 1159.0,-346.0 1167.8,-82.0 1176.5,58.8 1185.3,146.8 1195.3,199.6 1210.4,217.2 1225.4,221.6 1240.5,239.2 1250.5,260.3 1270.6,310.5 1290.6,330.7 1305.7,370.8 1320.7,430.6 1335.8,480.8 1345.8,503.2 1360.9,513.8 1380.9,505.8 1401.0,516.0 1426.1,508.5 1451.2,503.2 1476.2,513.8 1501.3,516.4 1526.4,525.2 1538.9,529.4 1548.3,525.7 1557.8,526.0 1567.2,524.2 1576.6,528.4 1586.0,528.5 1595.4,525.5 1604.8,526.0 1614.2,528.2 1623.6,525.8 1633.0,527.6 1642.4,525.3 1651.8,529.3 1661.2,528.7 1670.6,524.5"/>
<polyline stroke="#8000ff" points="1078.7,-819.9 1146.4,-842.3 1150.2,-742.0 1157.7,-390.0 1166.5,-126.0 1175.3,50.0 1182.8,138.0 1191.6,182.0 1204.1,204.0 1219.2,212.8 1238.0,230.4 1255.5,256.8 1268.1,278.8 1288.1,286.3 1300.7,292.4 1325.8,320.6 1345.8,345.7 1360.9,353.2 1380.9,398.5 1399.4,458.8 1411.8,496.2 1423.6,500.6 1438.6,502.3 1453.7,505.0 1468.7,509.4 1488.8,516.4 1513.9,520.8 1526.4,525.2 1538.9,524.1 1548.3,530.0 1557.8,525.5 1567.2,529.1 1576.6,524.0 1586.0,529.9 1595.4,524.6 1604.8,525.8 1614.2,524.8 1623.6,523.9 1633.0,528.6 1642.4,528.0 1651.8,525.7 1661.2,528.3 1670.6,528.4"/>
<polyline stroke="#cc9900" points="1081.2,-825.6 1112.6,-834.4 1145.2,-847.6 1150.2,-742.0 1160.2,-346.0 1169.0,-82.0 1177.8,72.0 1185.3,155.6 1195.3,199.6 1210.4,212.8 1225.4,217.2 1240.5,226.0 1260.6,256.8 1280.6,276.2 1310.7,285.4 1330.8,305.6 1360.9,322.8 1391.6,350.5 1422.6,391.0 1441.1,428.4 1456.4,471.5 1468.7,504.1 1484.1,512.0 1500.1,513.3 1515.1,521.7 1532.7,526.1 1549.0,527.8 1558.4,527.1 1567.8,527.5 1577.2,527.3 1586.6,527.5 1596.0,526.0 1605.4,528.4 1614.8,526.1 1624.2,530.0 1633.6,528.2 1643.0,528.0 1652.4,529.2 1661.8,525.5 1671.2,528.1"/>
<polyline stroke="#00c8c8" points="1081.2,-830.0 1112.6,-838.8 1145.2,-852.0 1150.2,-742.0 1157.7,-412.0 1165.2,-170.0 1172.8,41.2 1181.5,131.4 1192.2,193.0 1204.7,212.8 1215.4,215.0 1224.2,217.6 1234.2,227.3 1244.2,242.3 1255.5,257.2 1265.6,265.6 1283.1,266.5 1297.5,271.8 1325.8,280.6 1360.9,305.2 1380.9,320.6 1399.4,340.4 1419.8,351.4 1437.9,358.0 1453.3,383.5 1468.7,426.2 1491.9,471.5 1507.3,496.2 1522.8,521.7 1537.7,526.1 1546.5,526.8 1555.9,525.1 1565.3,524.1 1574.7,528.3 1584.1,525.3 1593.5,525.7 1602.9,526.0 1612.3,529.4 1621.7,529.9 1631.1,527.7 1640.5,525.4 1649.9,528.5 1659.3,527.0 1668.7,528.1"/>
<polyline stroke="#7b3f3f" points="1081.2,-827.8 1112.6,-838.8 1145.2,-849.8 1150.2,-742.0 1157.7,-412.0 1165.2,-170.0 1172.8,41.2 1181.5,135.8 1192.2,197.4 1204.7,217.2 1215.4,219.4 1224.2,222.0 1234.2,231.7 1244.2,246.7 1255.5,261.6 1265.6,270.0 1283.1,270.9 1297.5,276.2 1313.2,279.2 1329.5,282.8 1344.6,285.0 1360.9,286.3 1379.7,295.1 1399.4,305.2 1413.5,308.3 1430.2,310.5 1441.1,319.3 1453.3,333.8 1461.2,349.2 1468.7,368.1 1484.1,387.9 1495.0,404.2 1507.3,423.1 1515.1,441.6 1522.8,461.0 1530.4,496.6 1536.4,514.6 1542.7,522.1 1551.5,525.6 1555.2,529.3 1564.6,529.2 1574.1,526.4 1583.5,528.9 1592.9,529.2 1602.3,527.2 1611.7,527.5 1621.1,528.7 1630.5,527.6 1639.9,524.9 1649.3,529.2 1658.7,528.9 1668.1,529.9"/>
<polyline stroke="#808000" points="1081.2,-827.8 1112.6,-838.8 1145.2,-849.8 1150.8,-742.0 1158.4,-412.0 1165.9,-170.0 1173.4,41.2 1182.2,133.6 1192.8,195.2 1205.4,215.0 1216.0,217.2 1224.8,219.8 1234.8,229.5 1244.9,244.5 1256.2,259.4 1266.2,267.8 1283.8,268.7 1298.2,274.0 1313.8,277.0 1330.1,280.6 1345.2,282.8 1361.5,284.1 1380.3,292.9 1400.0,303.0 1414.2,306.1 1430.8,308.3 1441.8,317.1 1453.9,331.6 1461.8,347.0 1469.3,365.9 1484.8,385.7 1495.7,402.0 1508.0,420.9 1515.7,439.4 1523.4,458.8 1531.0,496.2 1537.1,514.2 1543.3,521.7 1552.1,525.2 1555.2,526.7 1564.6,527.9 1574.1,524.8 1583.5,528.3 1592.9,526.9 1602.3,527.9 1611.7,527.5 1621.1,524.0 1630.5,529.4 1639.9,527.3 1649.3,528.7 1658.7,527.9 1668.1,523.9"/>
<polyline stroke="#ff6600" points="1081.2,-836.6 1112.6,-847.6 1145.2,-865.2 1151.5,-742.0 1159.0,-412.0 1166.5,-170.0 1174.0,41.2 1182.8,127.0 1193.5,188.6 1206.0,208.4 1216.7,210.6 1225.4,213.2 1235.5,222.9 1245.5,237.9 1256.8,252.8 1266.8,261.2 1284.4,262.1 1298.8,267.4 1314.5,270.4 1330.8,274.0 1345.8,276.2 1362.1,277.5 1380.9,286.3 1400.6,296.4 1414.8,299.5 1431.5,301.7 1442.4,310.5 1454.5,325.0 1462.4,340.4 1470.0,359.3 1485.4,379.1 1496.3,395.4 1508.6,414.3 1516.4,432.8 1524.0,452.2 1531.7,494.8 1537.7,512.9 1544.0,520.4 1552.7,523.9 1555.2,526.7 1564.6,528.3 1574.1,529.9 1583.5,526.0 1592.9,528.7 1602.3,528.5 1611.7,527.6 1621.1,526.1 1630.5,523.9 1639.9,527.2 1649.3,523.9 1658.7,523.9 1668.1,528.5"/>
<polyline stroke="#5b9bd5" points="1078.7,-844.1 1112.6,-858.6 1146.4,-872.2 1150.2,-742.0 1157.7,-412.0 1165.2,-170.0 1172.8,41.2 1181.5,130.1 1192.2,191.7 1204.7,211.5 1215.4,213.7 1224.2,216.3 1234.2,226.0 1244.2,241.0 1255.5,255.9 1265.6,264.3 1283.1,265.2 1297.5,270.4 1313.2,273.5 1329.5,277.0 1344.6,279.2 1360.9,280.6 1379.7,289.4 1399.4,299.5 1413.5,302.6 1430.2,304.8 1441.1,313.6 1453.3,328.1 1461.2,343.5 1468.7,362.4 1484.1,382.2 1495.0,398.5 1507.3,417.4 1515.1,435.9 1522.8,455.2 1530.4,495.5 1536.4,513.5 1542.7,521.0 1551.5,524.5 1555.2,530.0 1564.6,529.3 1574.1,527.6 1583.5,525.8 1592.9,529.2 1602.3,529.3 1611.7,528.6 1621.1,525.4 1630.5,529.1 1639.9,525.5 1649.3,526.0 1658.7,529.2 1668.1,526.7"/>
<polyline stroke="#66bb00" points="1081.2,-834.4 1112.6,-847.6 1145.2,-860.8 1151.2,-742.0 1158.7,-412.0 1166.3,-170.0 1173.8,41.2 1182.6,131.4 1193.2,193.0 1205.8,212.8 1216.4,215.0 1225.2,217.6 1235.2,227.3 1245.3,242.3 1256.5,257.2 1266.6,265.6 1284.1,266.5 1298.5,271.8 1314.2,274.8 1330.5,278.4 1345.6,280.6 1361.9,281.9 1380.7,290.7 1400.4,300.8 1414.5,303.9 1431.2,306.1 1442.1,314.9 1454.3,329.4 1462.2,344.8 1469.7,363.7 1485.1,383.5 1496.1,399.8 1508.3,418.7 1516.1,437.2 1523.8,456.6 1531.4,495.7 1537.4,513.8 1543.7,521.2 1552.5,524.8 1555.2,529.6 1564.6,528.7 1574.1,528.2 1583.5,524.5 1592.9,527.0 1602.3,525.6 1611.7,529.4 1621.1,526.9 1630.5,524.8 1639.9,526.8 1649.3,524.2 1658.7,524.6 1668.1,527.8"/>
<polyline stroke="#4d4d4d" points="1078.7,-814.2 1103.8,-826.0 1146.4,-840.1 1150.2,-742.0 1157.7,-412.0 1165.2,-170.0 1172.8,41.2 1181.5,138.0 1190.3,199.6 1194.1,216.8 1204.7,229.1 1217.9,233.5 1234.2,246.2 1244.9,260.8 1255.5,273.5 1264.3,281.9 1276.9,275.7 1297.5,277.5 1318.2,284.1 1329.5,288.0 1350.2,288.0 1372.2,291.1 1386.0,298.6 1399.4,308.7 1413.5,311.4 1430.2,312.7 1442.4,321.5 1453.3,337.3 1468.7,373.4 1480.0,391.0 1491.9,405.1 1507.3,427.1 1515.1,449.5 1522.8,471.5 1530.4,502.8 1538.9,518.6 1547.7,523.4 1555.2,525.7 1564.6,524.9 1574.1,528.9 1583.5,523.9 1592.9,528.8 1602.3,525.9 1611.7,529.5 1621.1,525.4 1630.5,529.1 1639.9,525.7 1649.3,525.6 1658.7,525.3 1668.1,527.3"/>
</g>
<g stroke="#333" stroke-width="2.2" fill="none">
<line x1="1087.5" y1="51.0" x2="1087.5" y2="535.0"/>
<line x1="1086.5" y1="534.0" x2="1653.0" y2="534.0"/>
<line x1="1087.5" y1="534.0" x2="1096.5" y2="534.0"/>
<line x1="1087.5" y1="490.0" x2="1092.2" y2="490.0"/>
<line x1="1087.5" y1="446.0" x2="1096.5" y2="446.0"/>
<line x1="1087.5" y1="402.0" x2="1092.2" y2="402.0"/>
<line x1="1087.5" y1="358.0" x2="1096.5" y2="358.0"/>
<line x1="1087.5" y1="314.0" x2="1092.2" y2="314.0"/>
<line x1="1087.5" y1="270.0" x2="1096.5" y2="270.0"/>
<line x1="1087.5" y1="226.0" x2="1092.2" y2="226.0"/>
<line x1="1087.5" y1="182.0" x2="1096.5" y2="182.0"/>
<line x1="1087.5" y1="138.0" x2="1092.2" y2="138.0"/>
<line x1="1087.5" y1="94.0" x2="1096.5" y2="94.0"/>
<line x1="1087.5" y1="50.0" x2="1092.2" y2="50.0"/>
<line x1="1087.5" y1="534.0" x2="1087.5" y2="526.0"/>
<line x1="1150.2" y1="534.0" x2="1150.2" y2="529.5"/>
<line x1="1212.9" y1="534.0" x2="1212.9" y2="526.0"/>
<line x1="1275.6" y1="534.0" x2="1275.6" y2="529.5"/>
<line x1="1338.3" y1="534.0" x2="1338.3" y2="526.0"/>
<line x1="1401.0" y1="534.0" x2="1401.0" y2="529.5"/>
<line x1="1463.7" y1="534.0" x2="1463.7" y2="526.0"/>
<line x1="1526.4" y1="534.0" x2="1526.4" y2="529.5"/>
<line x1="1589.1" y1="534.0" x2="1589.1" y2="526.0"/>
<line x1="1651.8" y1="534.0" x2="1651.8" y2="529.5"/>
</g>
<g style="font-family:'Liberation Serif',serif" font-size="42" fill="#000">
<text x="1077" y="546.8" text-anchor="end" transform="translate(1077,0) scale(0.92,1) translate(-1077,0)">0</text>
<text x="1077" y="458.8" text-anchor="end" transform="translate(1077,0) scale(0.92,1) translate(-1077,0)">20</text>
<text x="1077" y="370.8" text-anchor="end" transform="translate(1077,0) scale(0.92,1) translate(-1077,0)">40</text>
<text x="1077" y="282.8" text-anchor="end" transform="translate(1077,0) scale(0.92,1) translate(-1077,0)">60</text>
<text x="1077" y="194.8" text-anchor="end" transform="translate(1077,0) scale(0.92,1) translate(-1077,0)">80</text>
<text x="1077" y="106.8" text-anchor="end" transform="translate(1077,0) scale(0.92,1) translate(-1077,0)">100</text>
<text x="1087.5" y="574.5" text-anchor="middle" transform="translate(1087.5,0) scale(0.92,1) translate(-1087.5,0)">50</text>
<text x="1212.9" y="574.5" text-anchor="middle" transform="translate(1212.9,0) scale(0.92,1) translate(-1212.9,0)">60</text>
<text x="1338.3" y="574.5" text-anchor="middle" transform="translate(1338.3,0) scale(0.92,1) translate(-1338.3,0)">70</text>
<text x="1463.7" y="574.5" text-anchor="middle" transform="translate(1463.7,0) scale(0.92,1) translate(-1463.7,0)">80</text>
<text x="1589.1" y="574.5" text-anchor="middle" transform="translate(1589.1,0) scale(0.92,1) translate(-1589.1,0)">90</text>
</g>
<rect x="224.0" y="51.0" width="1429.0" height="1230.0" fill="none" stroke="#000" stroke-width="4.2"/>
<g style="font-family:'Liberation Serif',serif" font-size="62" fill="#000">
<text x="198" y="1299.7" text-anchor="end">0</text>
<text x="198" y="1146.0" text-anchor="end">50</text>
<text x="198" y="992.2" text-anchor="end">100</text>
<text x="198" y="838.5" text-anchor="end">150</text>
<text x="198" y="684.7" text-anchor="end">200</text>
<text x="198" y="531.0" text-anchor="end">250</text>
<text x="198" y="377.2" text-anchor="end">300</text>
<text x="198" y="223.4" text-anchor="end">350</text>
<text x="198" y="69.7" text-anchor="end">400</text>
<text x="224.0" y="1354" text-anchor="middle">0</text>
<text x="509.8" y="1354" text-anchor="middle">20</text>
<text x="795.6" y="1354" text-anchor="middle">40</text>
<text x="1081.4" y="1354" text-anchor="middle">60</text>
<text x="1367.2" y="1354" text-anchor="middle">80</text>
<text x="1653.0" y="1354" text-anchor="middle">100</text>
</g>
<text style="font-family:'Liberation Serif',serif" font-size="61" x="938" y="1428" text-anchor="middle">Position (mm)</text>
<text style="font-family:'Liberation Serif',serif" font-size="67.3" transform="translate(71.7,643.5) rotate(-90)" text-anchor="middle">Signal amplitude</text>
<text style="font-family:'Liberation Serif',serif" font-size="85" x="859" y="1533.7" text-anchor="middle">(<tspan font-weight="bold">a</tspan>)</text>
<g stroke="#000" stroke-width="3.4">
<line x1="238.0" y1="2711.4" x2="246.2" y2="2711.4"/>
<line x1="238.0" y1="2627.2" x2="256.6" y2="2627.2"/>
<line x1="238.0" y1="2543.1" x2="246.2" y2="2543.1"/>
<line x1="238.0" y1="2459.0" x2="256.6" y2="2459.0"/>
<line x1="238.0" y1="2374.8" x2="246.2" y2="2374.8"/>
<line x1="238.0" y1="2290.7" x2="256.6" y2="2290.7"/>
<line x1="238.0" y1="2206.6" x2="246.2" y2="2206.6"/>
<line x1="238.0" y1="2122.4" x2="256.6" y2="2122.4"/>
<line x1="238.0" y1="2038.3" x2="246.2" y2="2038.3"/>
<line x1="238.0" y1="1954.1" x2="256.6" y2="1954.1"/>
<line x1="238.0" y1="1870.0" x2="246.2" y2="1870.0"/>
<line x1="238.0" y1="1785.9" x2="256.6" y2="1785.9"/>
<line x1="238.0" y1="1701.7" x2="246.2" y2="1701.7"/>
<line x1="379.4" y1="2795.5" x2="379.4" y2="2787.3"/>
<line x1="520.8" y1="2795.5" x2="520.8" y2="2776.9"/>
<line x1="662.2" y1="2795.5" x2="662.2" y2="2787.3"/>
<line x1="803.6" y1="2795.5" x2="803.6" y2="2776.9"/>
<line x1="945.0" y1="2795.5" x2="945.0" y2="2787.3"/>
<line x1="1086.4" y1="2795.5" x2="1086.4" y2="2776.9"/>
<line x1="1227.8" y1="2795.5" x2="1227.8" y2="2787.3"/>
<line x1="1369.2" y1="2795.5" x2="1369.2" y2="2776.9"/>
<line x1="1510.6" y1="2795.5" x2="1510.6" y2="2787.3"/>
</g>
<g fill="none" stroke-linejoin="round" stroke-linecap="round">
<polyline stroke="#464646" stroke-width="3.6" points="247.9,2780.1 257.8,2784.9 267.7,2783.5 277.6,2786.4 287.5,2790.8 297.4,2789.7 307.3,2792.2 317.2,2792.1 327.1,2791.8 337.0,2789.6 346.9,2792.2 356.8,2788.1 366.7,2792.9 376.6,2792.3 386.5,2792.8 396.4,2789.1 406.3,2791.1 416.2,2790.2 426.1,2790.7 436.0,2788.6 445.9,2789.4 455.8,2789.9 465.7,2788.0 475.6,2788.0 485.4,2788.3 495.3,2783.5 505.2,2783.4 515.1,2782.4 525.0,2780.1 534.9,2785.8 550.5,2790.5 561.8,2748.4 575.9,2627.2 587.3,2448.9 600.0,2156.1 609.9,1954.1 617.0,1826.3 622.6,1786.5 635.3,1750.9 648.1,1765.7 666.4,1813.1 680.6,1813.1 699.0,1782.2 711.7,1776.1 724.4,1782.5 745.6,1811.8 756.9,1803.7 778.1,1796.3 789.5,1781.2 806.4,1781.2 834.7,1783.5 850.3,1769.0 865.8,1753.2 878.5,1753.2 894.1,1759.3 911.1,1768.0 929.4,1759.3 943.6,1750.5 953.5,1767.0 964.8,1802.4 973.3,1857.6 980.4,1936.3 987.4,2050.1 1001.1,2250.3 1010.0,2400.1 1021.4,2547.5 1031.3,2653.1 1039.7,2714.7 1048.2,2755.1 1056.7,2778.7 1066.6,2787.1 1079.3,2787.1 1089.2,2780.4 1096.3,2772.0 1106.2,2775.6 1116.1,2779.4 1126.0,2784.0 1135.9,2786.9 1145.8,2780.6 1155.7,2779.3 1165.6,2780.5 1175.5,2781.9 1185.4,2781.9 1195.3,2783.8 1205.2,2782.9 1215.1,2781.6 1225.0,2779.0 1234.9,2776.3 1244.8,2774.5 1254.7,2777.0 1264.6,2776.1 1274.5,2777.4 1284.4,2772.0 1294.3,2773.6 1304.2,2769.4 1314.1,2766.9 1324.0,2766.7 1333.9,2768.5 1343.7,2766.9 1353.6,2771.8 1363.5,2769.9 1373.4,2769.7 1383.3,2773.1 1393.2,2777.3 1403.1,2779.4 1413.0,2779.4 1422.9,2785.0 1432.8,2788.6 1442.7,2790.7 1452.6,2789.4 1462.5,2788.9 1472.4,2790.5 1482.3,2792.3 1492.2,2788.9 1502.1,2787.6 1512.0,2787.6 1521.9,2792.1 1531.8,2792.8 1541.7,2787.6 1551.6,2788.4 1561.5,2789.7 1571.4,2790.1 1581.3,2791.6 1591.2,2789.6 1601.1,2790.6 1611.0,2789.2 1620.9,2792.2"/>
<path stroke="#c34d4d" stroke-width="3.4" d="M247.9,2777.5 C249.5,2777.7 254.5,2777.5 257.8,2778.6 C261.1,2779.8 264.4,2783.5 267.7,2784.7 C271.0,2785.8 274.3,2784.7 277.6,2785.4 C280.9,2786.0 284.2,2787.8 287.5,2788.5 C290.8,2789.3 294.1,2789.7 297.4,2789.7 C300.7,2789.7 304.0,2788.6 307.3,2788.5 C310.6,2788.3 313.9,2788.2 317.2,2788.7 C320.5,2789.3 323.8,2791.5 327.1,2791.6 C330.4,2791.6 333.7,2789.5 337.0,2788.9 C340.3,2788.4 343.6,2788.5 346.9,2788.5 C350.2,2788.5 353.5,2789.2 356.8,2789.0 C360.1,2788.8 363.4,2787.3 366.7,2787.1 C370.0,2786.9 373.3,2787.4 376.6,2787.8 C379.9,2788.3 383.2,2789.3 386.5,2789.7 C389.8,2790.2 393.1,2790.3 396.4,2790.5 C399.7,2790.6 403.0,2791.4 406.3,2790.8 C409.6,2790.2 412.9,2787.5 416.2,2786.9 C419.5,2786.3 422.8,2787.2 426.1,2787.2 C429.4,2787.3 432.7,2787.2 436.0,2787.2 C439.3,2787.3 442.6,2787.7 445.9,2787.7 C449.2,2787.6 452.5,2786.8 455.8,2786.8 C459.1,2786.8 462.4,2787.9 465.7,2787.6 C469.0,2787.4 472.3,2785.5 475.6,2785.3 C478.9,2785.1 482.2,2786.9 485.4,2786.6 C488.7,2786.2 492.0,2783.9 495.3,2783.1 C498.6,2782.4 501.9,2782.5 505.2,2782.1 C508.5,2781.7 511.8,2780.9 515.1,2780.9 C518.4,2780.9 521.7,2781.2 525.0,2782.1 C528.3,2782.9 530.7,2784.5 534.9,2785.9 C539.2,2787.3 546.3,2794.3 550.5,2790.5 C554.7,2786.6 557.6,2775.0 560.4,2762.6 C563.2,2750.3 564.6,2737.9 567.5,2716.3 C570.3,2694.6 574.1,2674.6 577.4,2632.8 C580.7,2591.1 584.0,2520.0 587.3,2465.9 C590.6,2411.9 594.1,2362.4 597.2,2308.3 C600.2,2254.2 603.0,2189.3 605.6,2141.4 C608.2,2093.5 610.4,2054.9 612.7,2020.9 C615.1,1986.9 617.4,1959.1 619.8,1937.5 C622.1,1915.8 624.3,1903.5 626.9,1891.1 C629.4,1878.7 632.3,1866.9 635.3,1863.3 C638.4,1859.7 641.5,1863.1 645.2,1869.3 C649.0,1875.6 652.5,1891.8 658.0,1901.0 C663.4,1910.2 671.2,1923.2 677.8,1924.5 C684.4,1925.8 691.7,1912.6 697.5,1908.7 C703.4,1904.8 708.2,1900.3 713.1,1901.0 C718.1,1901.6 722.1,1908.1 727.2,1912.7 C732.4,1917.3 736.2,1927.6 744.2,1928.6 C752.2,1929.5 767.1,1922.1 775.3,1918.5 C783.6,1914.8 787.8,1906.4 793.7,1906.7 C799.6,1907.0 802.4,1916.2 810.7,1920.5 C818.9,1924.8 834.2,1931.9 843.2,1932.3 C852.1,1932.6 857.3,1921.2 864.4,1922.5 C871.5,1923.8 878.8,1934.5 885.6,1940.0 C892.4,1945.6 897.9,1950.2 905.4,1955.8 C912.9,1961.4 924.5,1971.0 930.9,1973.7 C937.2,1976.3 939.1,1969.3 943.6,1971.6 C948.1,1973.9 953.5,1980.2 957.7,1987.5 C962.0,1994.7 966.0,2003.9 969.0,2015.1 C972.1,2026.2 973.8,2036.5 976.1,2054.4 C978.5,2072.3 979.6,2089.8 983.2,2122.4 C986.7,2155.1 993.1,2204.0 997.3,2250.3 C1001.6,2296.6 1004.9,2350.5 1008.6,2400.1 C1012.4,2449.6 1016.4,2505.3 1019.9,2547.5 C1023.5,2589.6 1026.8,2625.8 1029.8,2653.1 C1032.9,2680.5 1035.5,2694.9 1038.3,2711.4 C1041.2,2727.8 1044.0,2741.7 1046.8,2751.7 C1049.6,2761.8 1052.2,2766.9 1055.3,2771.9 C1058.4,2777.0 1061.2,2780.1 1065.2,2782.0 C1069.2,2784.0 1075.1,2784.6 1079.3,2783.7 C1083.6,2782.9 1087.1,2779.1 1090.6,2777.0 C1094.2,2774.9 1097.2,2770.6 1100.5,2770.9 C1103.8,2771.2 1107.1,2776.6 1110.4,2778.9 C1113.7,2781.3 1117.0,2784.6 1120.3,2784.9 C1123.6,2785.2 1126.9,2781.3 1130.2,2780.7 C1133.5,2780.1 1136.8,2781.2 1140.1,2781.2 C1143.4,2781.2 1146.7,2781.3 1150.0,2780.7 C1153.3,2780.0 1156.6,2777.6 1159.9,2777.4 C1163.2,2777.1 1166.5,2778.1 1169.8,2779.1 C1173.1,2780.1 1176.4,2783.3 1179.7,2783.5 C1183.0,2783.6 1186.3,2780.2 1189.6,2780.0 C1192.9,2779.7 1196.2,2781.9 1199.5,2782.1 C1202.8,2782.3 1206.1,2781.1 1209.4,2781.1 C1212.7,2781.1 1216.0,2783.0 1219.3,2781.9 C1222.6,2780.8 1225.9,2775.9 1229.2,2774.4 C1232.5,2772.9 1235.8,2772.7 1239.1,2772.7 C1242.4,2772.8 1245.7,2774.7 1249.0,2774.7 C1252.3,2774.8 1255.6,2772.7 1258.9,2773.0 C1262.2,2773.3 1265.5,2776.2 1268.8,2776.6 C1272.1,2777.0 1275.4,2776.5 1278.7,2775.5 C1282.0,2774.4 1285.3,2771.1 1288.6,2770.2 C1291.9,2769.4 1295.2,2770.8 1298.5,2770.3 C1301.8,2769.8 1305.1,2768.8 1308.4,2767.4 C1311.7,2765.9 1315.0,2762.6 1318.3,2761.8 C1321.6,2761.1 1324.9,2762.3 1328.2,2762.9 C1331.5,2763.4 1334.8,2764.4 1338.1,2765.2 C1341.4,2766.1 1344.7,2767.7 1348.0,2768.0 C1351.3,2768.3 1354.6,2767.1 1357.9,2767.1 C1361.2,2767.1 1364.5,2766.7 1367.8,2767.9 C1371.1,2769.1 1374.4,2773.1 1377.7,2774.4 C1381.0,2775.7 1384.3,2775.2 1387.6,2775.7 C1390.9,2776.2 1394.2,2776.8 1397.5,2777.5 C1400.8,2778.1 1404.1,2778.6 1407.4,2779.3 C1410.7,2780.0 1414.0,2780.7 1417.3,2781.9 C1420.6,2783.0 1423.9,2784.7 1427.2,2786.1 C1430.5,2787.6 1433.8,2790.3 1437.1,2790.3 C1440.4,2790.4 1443.7,2786.6 1447.0,2786.7 C1450.3,2786.7 1453.6,2790.7 1456.9,2790.8 C1460.2,2790.9 1463.5,2787.3 1466.8,2787.4 C1470.1,2787.4 1473.4,2791.0 1476.7,2791.0 C1480.0,2791.0 1483.3,2787.9 1486.6,2787.6 C1489.9,2787.3 1493.2,2789.2 1496.5,2789.3 C1499.8,2789.4 1503.1,2788.4 1506.4,2788.2 C1509.7,2788.0 1513.0,2787.7 1516.3,2788.0 C1519.6,2788.3 1522.9,2790.2 1526.2,2790.2 C1529.5,2790.2 1532.8,2788.2 1536.1,2788.2 C1539.4,2788.2 1542.7,2790.5 1546.0,2790.2 C1549.2,2789.9 1552.5,2786.3 1555.8,2786.4 C1559.1,2786.5 1562.4,2790.8 1565.7,2790.7 C1569.0,2790.7 1572.3,2786.4 1575.6,2786.2 C1578.9,2786.1 1582.2,2789.7 1585.5,2789.9 C1588.8,2790.1 1592.1,2787.0 1595.4,2787.3 C1598.7,2787.6 1602.0,2791.3 1605.3,2791.8 C1608.6,2792.3 1611.9,2790.8 1615.2,2790.5 C1618.5,2790.2 1623.5,2790.1 1625.1,2790.0"/>
<path stroke="#3065b0" stroke-width="3.0" d="M247.9,2768.2 C249.5,2769.4 254.5,2773.8 257.8,2775.5 C261.1,2777.3 264.4,2777.4 267.7,2778.6 C271.0,2779.9 274.3,2781.3 277.6,2783.1 C280.9,2784.8 284.2,2788.0 287.5,2789.1 C290.8,2790.3 294.1,2790.2 297.4,2789.9 C300.7,2789.5 304.0,2787.1 307.3,2787.0 C310.6,2787.0 313.9,2789.4 317.2,2789.6 C320.5,2789.8 323.8,2788.9 327.1,2788.2 C330.4,2787.5 333.7,2785.9 337.0,2785.5 C340.3,2785.1 343.6,2784.9 346.9,2785.6 C350.2,2786.3 353.5,2788.9 356.8,2789.6 C360.1,2790.4 363.4,2789.9 366.7,2789.8 C370.0,2789.7 373.3,2789.8 376.6,2789.1 C379.9,2788.4 383.2,2785.6 386.5,2785.8 C389.8,2786.0 393.1,2789.5 396.4,2790.0 C399.7,2790.5 403.0,2788.9 406.3,2788.8 C409.6,2788.6 412.9,2789.2 416.2,2789.2 C419.5,2789.2 422.8,2789.2 426.1,2788.7 C429.4,2788.2 432.7,2786.4 436.0,2786.2 C439.3,2786.0 442.6,2787.6 445.9,2787.5 C449.2,2787.5 452.5,2786.5 455.8,2785.8 C459.1,2785.1 462.4,2783.9 465.7,2783.4 C469.0,2782.9 472.3,2782.7 475.6,2782.7 C478.9,2782.8 482.2,2783.9 485.4,2783.6 C488.7,2783.2 492.0,2781.2 495.3,2780.7 C498.6,2780.3 501.9,2781.3 505.2,2780.9 C508.5,2780.5 511.8,2778.6 515.1,2778.5 C518.4,2778.5 521.7,2779.8 525.0,2780.5 C528.3,2781.3 530.7,2781.3 534.9,2782.9 C539.2,2784.6 546.3,2793.5 550.5,2790.5 C554.7,2787.4 557.6,2776.2 560.4,2764.8 C563.2,2753.3 564.6,2741.9 567.5,2721.9 C570.3,2701.9 574.1,2683.4 577.4,2644.8 C580.7,2606.3 584.0,2540.6 587.3,2490.7 C590.6,2440.7 594.1,2395.0 597.2,2345.1 C600.2,2295.1 603.0,2235.2 605.6,2190.9 C608.2,2146.6 610.4,2111.0 612.7,2079.6 C615.1,2048.2 617.4,2022.5 619.8,2002.5 C622.1,1982.5 624.3,1971.0 626.9,1959.6 C629.4,1948.3 632.0,1936.2 635.3,1934.3 C638.6,1932.4 642.9,1941.2 646.6,1948.1 C650.4,1955.0 652.8,1968.4 658.0,1975.7 C663.1,1982.9 670.0,1993.2 677.8,1991.5 C685.5,1989.8 698.0,1969.0 704.6,1965.6 C711.2,1962.2 710.3,1966.4 717.3,1971.0 C724.4,1975.6 738.8,1989.8 747.0,1993.2 C755.3,1996.5 759.3,1994.9 766.8,1991.2 C774.4,1987.5 784.0,1971.3 792.3,1971.0 C800.5,1970.7 807.8,1985.8 816.3,1989.5 C824.8,1993.2 834.7,1994.3 843.2,1993.2 C851.7,1992.1 858.7,1980.4 867.2,1982.7 C875.7,1985.1 884.7,1999.3 894.1,2007.3 C903.5,2015.3 916.0,2026.3 923.8,2030.9 C931.6,2035.4 935.1,2032.0 940.8,2034.6 C946.4,2037.2 953.2,2039.8 957.7,2046.4 C962.2,2052.9 965.0,2065.0 967.6,2074.0 C970.2,2082.9 971.2,2086.2 973.3,2099.9 C975.4,2113.6 977.6,2131.0 980.4,2156.1 C983.1,2181.1 986.1,2209.6 989.7,2250.3 C993.2,2291.0 997.7,2350.5 1001.6,2400.1 C1005.4,2449.6 1009.3,2505.3 1012.9,2547.5 C1016.4,2589.6 1019.2,2624.1 1022.8,2653.1 C1026.3,2682.2 1030.3,2704.0 1034.1,2721.8 C1037.9,2739.6 1041.9,2751.8 1045.4,2760.2 C1048.9,2768.5 1051.8,2769.4 1055.3,2771.9 C1058.8,2774.5 1062.6,2774.5 1066.6,2775.3 C1070.6,2776.1 1075.6,2778.6 1079.3,2777.0 C1083.1,2775.3 1085.9,2765.9 1089.2,2765.5 C1092.5,2765.0 1095.8,2772.3 1099.1,2774.4 C1102.4,2776.4 1105.7,2777.0 1109.0,2777.7 C1112.3,2778.4 1115.6,2778.3 1118.9,2778.6 C1122.2,2779.0 1125.5,2779.3 1128.8,2779.8 C1132.1,2780.3 1135.4,2781.5 1138.7,2781.5 C1142.0,2781.5 1145.3,2780.5 1148.6,2779.7 C1151.9,2778.9 1155.2,2777.3 1158.5,2776.6 C1161.8,2775.9 1165.1,2775.5 1168.4,2775.5 C1171.7,2775.6 1175.0,2776.4 1178.3,2776.8 C1181.6,2777.2 1184.9,2777.4 1188.2,2778.1 C1191.5,2778.8 1194.8,2780.2 1198.1,2781.1 C1201.4,2782.0 1204.7,2783.9 1208.0,2783.5 C1211.3,2783.0 1214.6,2780.1 1217.9,2778.5 C1221.2,2776.9 1224.5,2775.1 1227.8,2774.0 C1231.1,2772.8 1234.4,2772.2 1237.7,2771.6 C1241.0,2770.9 1244.3,2770.4 1247.6,2770.1 C1250.9,2769.9 1254.2,2769.7 1257.5,2770.2 C1260.8,2770.6 1264.1,2772.5 1267.4,2772.8 C1270.7,2773.1 1274.0,2772.3 1277.3,2771.9 C1280.6,2771.5 1283.9,2771.1 1287.2,2770.4 C1290.5,2769.6 1293.8,2767.9 1297.1,2767.3 C1300.4,2766.7 1303.7,2767.3 1307.0,2766.9 C1310.3,2766.5 1313.6,2765.0 1316.9,2764.7 C1320.2,2764.4 1323.5,2765.1 1326.8,2764.8 C1330.1,2764.5 1333.4,2762.4 1336.7,2762.8 C1340.0,2763.2 1343.3,2766.3 1346.6,2767.3 C1349.9,2768.2 1353.2,2768.6 1356.5,2768.4 C1359.8,2768.2 1363.1,2765.6 1366.4,2766.1 C1369.7,2766.5 1373.0,2770.1 1376.3,2770.9 C1379.6,2771.7 1382.9,2770.6 1386.2,2770.9 C1389.5,2771.1 1392.8,2771.4 1396.1,2772.5 C1399.4,2773.6 1402.7,2776.4 1406.0,2777.5 C1409.3,2778.6 1412.6,2778.2 1415.9,2779.1 C1419.2,2780.0 1422.5,2781.7 1425.8,2782.9 C1429.1,2784.1 1432.4,2785.4 1435.7,2786.2 C1439.0,2787.0 1442.3,2787.6 1445.6,2787.8 C1448.9,2787.9 1452.2,2786.6 1455.5,2787.0 C1458.8,2787.3 1462.1,2790.0 1465.4,2789.8 C1468.7,2789.6 1472.0,2785.6 1475.3,2785.6 C1478.5,2785.6 1481.8,2789.5 1485.1,2789.7 C1488.4,2790.0 1491.7,2787.8 1495.0,2787.3 C1498.3,2786.7 1501.6,2786.3 1504.9,2786.3 C1508.2,2786.3 1511.5,2787.7 1514.8,2787.5 C1518.1,2787.2 1521.4,2784.5 1524.7,2784.9 C1528.0,2785.4 1531.3,2789.8 1534.6,2790.1 C1537.9,2790.3 1541.2,2786.8 1544.5,2786.5 C1547.8,2786.1 1551.1,2787.7 1554.4,2788.0 C1557.7,2788.3 1561.0,2788.3 1564.3,2788.2 C1567.6,2788.2 1570.9,2788.3 1574.2,2787.8 C1577.5,2787.3 1580.8,2784.9 1584.1,2785.3 C1587.4,2785.7 1590.7,2789.8 1594.0,2790.2 C1597.3,2790.7 1600.6,2788.5 1603.9,2788.1 C1607.2,2787.7 1610.5,2787.7 1613.8,2787.9 C1617.1,2788.1 1622.1,2789.1 1623.7,2789.3"/>
<path stroke="#3c9e6a" stroke-width="3.4" d="M247.9,2763.4 C249.5,2764.4 254.5,2767.3 257.8,2769.3 C261.1,2771.3 264.4,2773.1 267.7,2775.5 C271.0,2777.9 274.3,2781.7 277.6,2783.7 C280.9,2785.6 284.2,2786.8 287.5,2787.0 C290.8,2787.2 294.1,2785.4 297.4,2784.9 C300.7,2784.5 304.0,2783.8 307.3,2784.4 C310.6,2785.1 313.9,2788.1 317.2,2788.7 C320.5,2789.3 323.8,2788.7 327.1,2787.9 C330.4,2787.1 333.7,2783.9 337.0,2783.9 C340.3,2784.0 343.6,2787.9 346.9,2788.1 C350.2,2788.3 353.5,2785.4 356.8,2785.2 C360.1,2785.1 363.4,2787.0 366.7,2787.0 C370.0,2787.0 373.3,2785.8 376.6,2785.3 C379.9,2784.8 383.2,2784.1 386.5,2784.1 C389.8,2784.1 393.1,2785.1 396.4,2785.5 C399.7,2785.9 403.0,2786.2 406.3,2786.4 C409.6,2786.5 412.9,2786.8 416.2,2786.5 C419.5,2786.2 422.8,2785.0 426.1,2784.6 C429.4,2784.2 432.7,2784.1 436.0,2784.1 C439.3,2784.2 442.6,2784.8 445.9,2784.8 C449.2,2784.8 452.5,2784.3 455.8,2783.9 C459.1,2783.6 462.4,2783.0 465.7,2782.9 C469.0,2782.9 472.3,2783.6 475.6,2783.7 C478.9,2783.8 482.2,2783.9 485.4,2783.3 C488.7,2782.8 492.0,2780.6 495.3,2780.4 C498.6,2780.1 501.9,2782.3 505.2,2781.9 C508.5,2781.6 511.8,2779.2 515.1,2778.2 C518.4,2777.3 521.7,2775.9 525.0,2776.0 C528.3,2776.1 530.7,2776.5 534.9,2778.9 C539.2,2781.3 546.3,2792.1 550.5,2790.5 C554.7,2788.8 557.6,2778.4 560.4,2768.8 C563.2,2759.2 564.6,2749.5 567.5,2732.7 C570.3,2715.9 574.1,2700.2 577.4,2667.7 C580.7,2635.2 584.0,2579.9 587.3,2537.8 C590.6,2495.7 594.1,2457.2 597.2,2415.1 C600.2,2373.0 603.0,2322.4 605.6,2285.1 C608.2,2247.8 610.4,2217.8 612.7,2191.3 C615.1,2164.8 617.4,2143.2 619.8,2126.3 C622.1,2109.5 624.0,2099.6 626.9,2090.2 C629.7,2080.8 631.8,2069.0 636.7,2069.9 C641.7,2070.8 649.7,2088.0 656.5,2095.5 C663.4,2103.0 668.6,2115.7 677.8,2115.0 C686.9,2114.3 699.9,2091.0 711.7,2091.5 C723.5,2091.9 735.0,2117.0 748.5,2117.7 C761.9,2118.4 776.5,2094.3 792.3,2095.5 C808.1,2096.7 830.7,2121.9 843.2,2124.8 C855.7,2127.7 858.5,2111.4 867.2,2113.0 C875.9,2114.6 887.0,2127.6 895.5,2134.2 C904.0,2140.8 911.8,2148.6 918.1,2152.4 C924.5,2156.2 928.5,2155.7 933.7,2157.1 C938.9,2158.4 945.0,2158.4 949.2,2160.4 C953.5,2162.5 956.1,2165.4 959.1,2169.5 C962.2,2173.7 964.8,2174.2 967.6,2185.3 C970.5,2196.5 973.0,2213.3 976.1,2236.5 C979.2,2259.7 982.5,2297.1 986.0,2324.3 C989.5,2351.6 993.3,2362.9 997.3,2400.1 C1001.3,2437.3 1006.0,2505.3 1010.0,2547.5 C1014.1,2589.6 1017.6,2624.1 1021.4,2653.1 C1025.1,2682.2 1028.7,2704.0 1032.7,2721.8 C1036.7,2739.6 1041.6,2752.4 1045.4,2760.2 C1049.2,2768.0 1051.8,2766.9 1055.3,2768.6 C1058.8,2770.3 1062.6,2770.5 1066.6,2770.3 C1070.6,2770.0 1075.6,2768.0 1079.3,2767.0 C1083.1,2766.1 1085.9,2763.8 1089.2,2764.5 C1092.5,2765.2 1095.8,2769.8 1099.1,2771.2 C1102.4,2772.6 1105.7,2771.5 1109.0,2772.9 C1112.3,2774.4 1115.6,2777.9 1118.9,2779.8 C1122.2,2781.6 1125.5,2783.7 1128.8,2783.9 C1132.1,2784.0 1135.4,2782.0 1138.7,2780.9 C1142.0,2779.8 1145.3,2777.7 1148.6,2777.2 C1151.9,2776.7 1155.2,2778.0 1158.5,2777.8 C1161.8,2777.6 1165.1,2776.2 1168.4,2776.2 C1171.7,2776.1 1175.0,2776.4 1178.3,2777.3 C1181.6,2778.2 1184.9,2781.3 1188.2,2781.4 C1191.5,2781.6 1194.8,2778.3 1198.1,2778.3 C1201.4,2778.2 1204.7,2781.7 1208.0,2781.4 C1211.3,2781.0 1214.6,2776.8 1217.9,2776.2 C1221.2,2775.6 1224.5,2778.3 1227.8,2777.7 C1231.1,2777.1 1234.4,2773.7 1237.7,2772.5 C1241.0,2771.3 1244.3,2771.1 1247.6,2770.6 C1250.9,2770.0 1254.2,2769.2 1257.5,2769.3 C1260.8,2769.4 1264.1,2770.9 1267.4,2771.2 C1270.7,2771.4 1274.0,2771.0 1277.3,2770.9 C1280.6,2770.9 1283.9,2771.3 1287.2,2770.9 C1290.5,2770.4 1293.8,2769.6 1297.1,2768.2 C1300.4,2766.8 1303.7,2763.4 1307.0,2762.5 C1310.3,2761.5 1313.6,2762.8 1316.9,2762.5 C1320.2,2762.3 1323.5,2760.5 1326.8,2761.1 C1330.1,2761.6 1333.4,2765.3 1336.7,2765.9 C1340.0,2766.4 1343.3,2764.3 1346.6,2764.3 C1349.9,2764.4 1353.2,2765.2 1356.5,2766.3 C1359.8,2767.3 1363.1,2770.0 1366.4,2770.4 C1369.7,2770.9 1373.0,2769.2 1376.3,2769.0 C1379.6,2768.7 1382.9,2768.7 1386.2,2768.9 C1389.5,2769.1 1392.8,2768.6 1396.1,2770.0 C1399.4,2771.3 1402.7,2775.3 1406.0,2776.8 C1409.3,2778.4 1412.6,2778.4 1415.9,2779.3 C1419.2,2780.1 1422.5,2780.5 1425.8,2781.7 C1429.1,2782.9 1432.4,2785.3 1435.7,2786.4 C1439.0,2787.5 1442.3,2788.2 1445.6,2788.5 C1448.9,2788.8 1452.2,2788.6 1455.5,2788.2 C1458.8,2787.9 1462.1,2787.1 1465.4,2786.4 C1468.7,2785.6 1472.0,2783.7 1475.3,2783.6 C1478.5,2783.4 1481.8,2785.2 1485.1,2785.4 C1488.4,2785.6 1491.7,2785.1 1495.0,2785.0 C1498.3,2784.9 1501.6,2784.9 1504.9,2784.9 C1508.2,2784.8 1511.5,2784.1 1514.8,2784.5 C1518.1,2784.9 1521.4,2787.4 1524.7,2787.2 C1528.0,2787.0 1531.3,2783.3 1534.6,2783.4 C1537.9,2783.6 1541.2,2787.1 1544.5,2788.0 C1547.8,2788.9 1551.1,2789.3 1554.4,2788.8 C1557.7,2788.4 1561.0,2785.6 1564.3,2785.3 C1567.6,2785.0 1570.9,2787.2 1574.2,2787.0 C1577.5,2786.7 1580.8,2783.8 1584.1,2783.7 C1587.4,2783.6 1590.7,2786.1 1594.0,2786.3 C1597.3,2786.4 1600.6,2784.8 1603.9,2784.6 C1607.2,2784.4 1610.5,2785.3 1613.8,2785.2 C1617.1,2785.2 1622.1,2784.5 1623.7,2784.4"/>
<path stroke="#ae86d8" stroke-width="3.0" d="M247.9,2766.5 C249.5,2768.1 254.5,2773.5 257.8,2775.7 C261.1,2777.9 264.4,2778.1 267.7,2779.7 C271.0,2781.3 274.3,2782.9 277.6,2785.2 C280.9,2787.4 284.2,2792.2 287.5,2793.1 C290.8,2794.1 294.1,2790.7 297.4,2790.7 C300.7,2790.7 304.0,2792.5 307.3,2793.0 C310.6,2793.6 313.9,2794.0 317.2,2793.9 C320.5,2793.9 323.8,2793.5 327.1,2793.0 C330.4,2792.4 333.7,2790.6 337.0,2790.8 C340.3,2791.0 343.6,2793.9 346.9,2794.0 C350.2,2794.1 353.5,2791.5 356.8,2791.3 C360.1,2791.1 363.4,2792.5 366.7,2792.9 C370.0,2793.4 373.3,2794.0 376.6,2793.9 C379.9,2793.8 383.2,2792.7 386.5,2792.5 C389.8,2792.3 393.1,2792.7 396.4,2792.6 C399.7,2792.6 403.0,2792.6 406.3,2792.1 C409.6,2791.5 412.9,2790.1 416.2,2789.5 C419.5,2789.0 422.8,2788.5 426.1,2789.0 C429.4,2789.5 432.7,2792.5 436.0,2792.3 C439.3,2792.1 442.6,2788.3 445.9,2787.8 C449.2,2787.2 452.5,2789.4 455.8,2789.2 C459.1,2789.0 462.4,2787.1 465.7,2786.7 C469.0,2786.3 472.3,2786.6 475.6,2786.8 C478.9,2786.9 482.2,2787.3 485.4,2787.5 C488.7,2787.8 492.0,2788.8 495.3,2788.1 C498.6,2787.5 501.9,2784.5 505.2,2783.5 C508.5,2782.5 511.8,2782.2 515.1,2782.1 C518.4,2782.1 521.7,2781.9 525.0,2783.0 C528.3,2784.2 530.7,2787.6 534.9,2788.8 C539.2,2790.1 546.3,2792.5 550.5,2790.5 C554.7,2788.4 557.6,2782.8 560.4,2776.7 C563.2,2770.5 564.6,2764.4 567.5,2753.7 C570.3,2743.0 574.1,2733.0 577.4,2712.4 C580.7,2691.7 584.0,2656.5 587.3,2629.7 C590.6,2602.9 594.1,2578.4 597.2,2551.6 C600.2,2524.8 603.0,2492.6 605.6,2468.9 C608.2,2445.2 610.4,2426.0 612.7,2409.2 C615.1,2392.3 617.4,2378.5 619.8,2367.8 C622.1,2357.1 624.0,2350.9 626.9,2344.9 C629.7,2338.8 631.8,2330.9 636.7,2331.4 C641.7,2331.9 649.9,2343.3 656.5,2347.9 C663.1,2352.5 667.1,2359.5 676.3,2359.0 C685.5,2358.6 699.0,2344.9 711.7,2345.2 C724.4,2345.5 739.3,2360.0 752.7,2361.0 C766.1,2362.0 777.7,2350.3 792.3,2351.3 C806.9,2352.2 827.9,2364.9 840.4,2366.7 C852.9,2368.5 855.7,2359.4 867.2,2362.0 C878.8,2364.7 897.9,2378.1 909.6,2382.6 C921.4,2387.0 930.2,2385.7 937.9,2388.6 C945.7,2391.5 951.1,2394.6 956.3,2400.1 C961.5,2405.6 965.0,2412.5 969.0,2421.6 C973.0,2430.7 976.8,2443.4 980.4,2454.9 C983.9,2466.4 986.7,2475.2 990.2,2490.6 C993.8,2506.0 998.3,2529.2 1001.6,2547.5 C1004.9,2565.8 1007.2,2582.7 1010.0,2600.3 C1012.9,2617.9 1015.5,2637.3 1018.5,2653.1 C1021.6,2669.0 1024.9,2682.9 1028.4,2695.2 C1032.0,2707.5 1036.4,2717.0 1039.7,2726.8 C1043.0,2736.7 1045.4,2748.0 1048.2,2754.1 C1051.0,2760.2 1053.2,2761.7 1056.7,2763.5 C1060.2,2765.4 1065.7,2764.1 1069.4,2765.2 C1073.2,2766.3 1076.0,2768.9 1079.3,2770.1 C1082.6,2771.3 1085.9,2771.7 1089.2,2772.2 C1092.5,2772.8 1095.8,2772.6 1099.1,2773.5 C1102.4,2774.3 1105.7,2775.8 1109.0,2777.4 C1112.3,2779.0 1115.6,2781.6 1118.9,2783.1 C1122.2,2784.7 1125.5,2786.3 1128.8,2786.8 C1132.1,2787.2 1135.4,2786.5 1138.7,2785.7 C1142.0,2785.0 1145.3,2783.0 1148.6,2782.5 C1151.9,2781.9 1155.2,2782.0 1158.5,2782.2 C1161.8,2782.5 1165.1,2783.4 1168.4,2783.8 C1171.7,2784.3 1175.0,2785.5 1178.3,2785.1 C1181.6,2784.6 1184.9,2780.8 1188.2,2781.2 C1191.5,2781.7 1194.8,2786.5 1198.1,2787.9 C1201.4,2789.2 1204.7,2790.1 1208.0,2789.3 C1211.3,2788.5 1214.6,2784.5 1217.9,2783.3 C1221.2,2782.2 1224.5,2783.1 1227.8,2782.4 C1231.1,2781.6 1234.4,2780.0 1237.7,2778.8 C1241.0,2777.7 1244.3,2776.1 1247.6,2775.4 C1250.9,2774.6 1254.2,2774.3 1257.5,2774.4 C1260.8,2774.5 1264.1,2776.3 1267.4,2776.2 C1270.7,2776.2 1274.0,2774.4 1277.3,2774.1 C1280.6,2773.8 1283.9,2774.4 1287.2,2774.3 C1290.5,2774.1 1293.8,2774.3 1297.1,2773.3 C1300.4,2772.2 1303.7,2768.8 1307.0,2768.1 C1310.3,2767.3 1313.6,2768.8 1316.9,2768.8 C1320.2,2768.8 1323.5,2768.0 1326.8,2767.9 C1330.1,2767.7 1333.4,2767.3 1336.7,2768.0 C1340.0,2768.8 1343.3,2771.7 1346.6,2772.4 C1349.9,2773.1 1353.2,2772.2 1356.5,2772.0 C1359.8,2771.7 1363.1,2770.6 1366.4,2770.9 C1369.7,2771.3 1373.0,2773.6 1376.3,2774.0 C1379.6,2774.4 1382.9,2772.6 1386.2,2773.3 C1389.5,2774.1 1392.8,2777.7 1396.1,2778.6 C1399.4,2779.5 1402.7,2777.8 1406.0,2778.7 C1409.3,2779.6 1412.6,2782.0 1415.9,2783.9 C1419.2,2785.8 1422.5,2789.0 1425.8,2790.1 C1429.1,2791.2 1432.4,2790.2 1435.7,2790.4 C1439.0,2790.6 1442.3,2791.0 1445.6,2791.6 C1448.9,2792.1 1452.2,2793.4 1455.5,2793.8 C1458.8,2794.2 1462.1,2794.2 1465.4,2793.8 C1468.7,2793.5 1472.0,2792.4 1475.3,2791.6 C1478.5,2790.9 1481.8,2789.1 1485.1,2789.4 C1488.4,2789.7 1491.7,2792.9 1495.0,2793.5 C1498.3,2794.0 1501.6,2793.1 1504.9,2792.8 C1508.2,2792.6 1511.5,2791.9 1514.8,2791.9 C1518.1,2791.8 1521.4,2792.9 1524.7,2792.5 C1528.0,2792.1 1531.3,2789.7 1534.6,2789.6 C1537.9,2789.6 1541.2,2791.8 1544.5,2792.0 C1547.8,2792.3 1551.1,2791.0 1554.4,2791.3 C1557.7,2791.5 1561.0,2793.4 1564.3,2793.6 C1567.6,2793.8 1570.9,2792.7 1574.2,2792.2 C1577.5,2791.7 1580.8,2790.4 1584.1,2790.5 C1587.4,2790.7 1590.7,2792.9 1594.0,2793.0 C1597.3,2793.0 1600.6,2791.2 1603.9,2790.9 C1607.2,2790.6 1610.5,2790.7 1613.8,2791.2 C1617.1,2791.7 1622.1,2793.4 1623.7,2793.8"/>
<path stroke="#b9993a" stroke-width="3.6" d="M247.9,2762.6 C249.5,2763.6 254.5,2765.7 257.8,2768.8 C261.1,2771.8 264.4,2778.4 267.7,2780.8 C271.0,2783.2 274.3,2781.7 277.6,2783.1 C280.9,2784.4 284.2,2787.2 287.5,2788.9 C290.8,2790.5 294.1,2793.0 297.4,2793.0 C300.7,2793.0 304.0,2789.6 307.3,2789.0 C310.6,2788.3 313.9,2788.4 317.2,2789.0 C320.5,2789.5 323.8,2792.5 327.1,2792.3 C330.4,2792.2 333.7,2788.2 337.0,2788.1 C340.3,2787.9 343.6,2790.9 346.9,2791.4 C350.2,2791.8 353.5,2791.1 356.8,2790.9 C360.1,2790.6 363.4,2790.0 366.7,2789.8 C370.0,2789.6 373.3,2789.7 376.6,2789.6 C379.9,2789.5 383.2,2788.9 386.5,2789.3 C389.8,2789.6 393.1,2791.5 396.4,2791.7 C399.7,2791.9 403.0,2790.4 406.3,2790.4 C409.6,2790.5 412.9,2791.9 416.2,2792.0 C419.5,2792.1 422.8,2791.4 426.1,2791.0 C429.4,2790.5 432.7,2789.4 436.0,2789.4 C439.3,2789.4 442.6,2791.2 445.9,2791.2 C449.2,2791.1 452.5,2790.0 455.8,2789.1 C459.1,2788.3 462.4,2786.0 465.7,2786.0 C469.0,2785.9 472.3,2788.6 475.6,2788.7 C478.9,2788.8 482.2,2786.7 485.4,2786.5 C488.7,2786.4 492.0,2788.4 495.3,2787.8 C498.6,2787.2 501.9,2783.4 505.2,2783.1 C508.5,2782.7 511.8,2785.3 515.1,2785.5 C518.4,2785.6 521.7,2784.2 525.0,2783.9 C528.3,2783.7 530.7,2782.8 534.9,2783.9 C539.2,2785.0 546.3,2791.0 550.5,2790.5 C554.7,2789.9 557.6,2785.0 560.4,2780.6 C563.2,2776.2 564.6,2771.9 567.5,2764.2 C570.3,2756.5 574.1,2749.4 577.4,2734.7 C580.7,2719.9 584.0,2694.7 587.3,2675.6 C590.6,2656.5 594.1,2639.0 597.2,2619.8 C600.2,2600.7 603.0,2577.7 605.6,2560.8 C608.2,2543.8 610.4,2530.1 612.7,2518.1 C615.1,2506.1 617.4,2496.2 619.8,2488.6 C622.1,2480.9 624.0,2476.4 626.9,2472.2 C629.7,2467.9 632.0,2462.7 636.7,2463.0 C641.5,2463.3 649.2,2470.8 655.1,2474.1 C661.0,2477.4 666.2,2482.0 672.1,2482.5 C678.0,2483.1 685.1,2479.3 690.5,2477.5 C695.9,2475.7 698.7,2471.7 704.6,2471.7 C710.5,2471.7 719.0,2475.7 725.8,2477.5 C732.7,2479.3 739.0,2482.4 745.6,2482.5 C752.2,2482.6 758.6,2479.7 765.4,2478.1 C772.3,2476.6 779.6,2473.5 786.6,2473.4 C793.7,2473.3 800.5,2476.0 807.8,2477.5 C815.1,2479.0 822.9,2481.7 830.5,2482.5 C838.0,2483.4 846.3,2481.4 853.1,2482.5 C859.9,2483.6 863.7,2486.7 871.5,2489.2 C879.2,2491.8 891.0,2496.0 899.8,2498.0 C908.5,2500.0 916.7,2500.1 923.8,2501.0 C930.9,2501.9 937.2,2502.3 942.2,2503.4 C947.1,2504.5 949.9,2505.3 953.5,2507.8 C957.0,2510.2 958.9,2512.2 963.4,2518.2 C967.9,2524.1 975.9,2535.0 980.4,2543.4 C984.8,2551.8 986.7,2559.2 990.2,2568.7 C993.8,2578.1 998.3,2589.8 1001.6,2600.3 C1004.9,2610.9 1007.2,2619.5 1010.0,2631.9 C1012.9,2644.3 1015.0,2660.6 1018.5,2674.7 C1022.1,2688.8 1027.0,2704.2 1031.3,2716.4 C1035.5,2728.6 1040.4,2740.4 1044.0,2748.0 C1047.5,2755.7 1048.2,2759.9 1052.5,2762.5 C1056.7,2765.1 1065.0,2762.8 1069.4,2763.5 C1073.9,2764.3 1076.0,2765.6 1079.3,2766.9 C1082.6,2768.2 1085.9,2770.3 1089.2,2771.2 C1092.5,2772.1 1095.8,2770.6 1099.1,2772.1 C1102.4,2773.7 1105.7,2778.5 1109.0,2780.5 C1112.3,2782.5 1115.6,2783.3 1118.9,2784.3 C1122.2,2785.3 1125.5,2786.2 1128.8,2786.6 C1132.1,2787.0 1135.4,2787.7 1138.7,2786.7 C1142.0,2785.7 1145.3,2781.0 1148.6,2780.5 C1151.9,2779.9 1155.2,2783.5 1158.5,2783.6 C1161.8,2783.6 1165.1,2780.9 1168.4,2780.7 C1171.7,2780.6 1175.0,2782.7 1178.3,2782.6 C1181.6,2782.5 1184.9,2779.5 1188.2,2780.1 C1191.5,2780.8 1194.8,2785.2 1198.1,2786.4 C1201.4,2787.6 1204.7,2787.9 1208.0,2787.3 C1211.3,2786.6 1214.6,2783.4 1217.9,2782.5 C1221.2,2781.6 1224.5,2782.9 1227.8,2781.9 C1231.1,2780.9 1234.4,2778.0 1237.7,2776.5 C1241.0,2775.1 1244.3,2773.1 1247.6,2773.3 C1250.9,2773.5 1254.2,2777.5 1257.5,2777.7 C1260.8,2777.9 1264.1,2775.1 1267.4,2774.6 C1270.7,2774.1 1274.0,2774.4 1277.3,2774.6 C1280.6,2774.8 1283.9,2776.8 1287.2,2775.9 C1290.5,2775.0 1293.8,2770.1 1297.1,2769.2 C1300.4,2768.4 1303.7,2771.7 1307.0,2770.8 C1310.3,2769.9 1313.6,2763.9 1316.9,2763.6 C1320.2,2763.2 1323.5,2768.5 1326.8,2768.7 C1330.1,2769.0 1333.4,2765.6 1336.7,2765.1 C1340.0,2764.7 1343.3,2765.2 1346.6,2766.3 C1349.9,2767.4 1353.2,2770.3 1356.5,2771.7 C1359.8,2773.1 1363.1,2773.8 1366.4,2774.4 C1369.7,2775.1 1373.0,2775.3 1376.3,2775.7 C1379.6,2776.0 1382.9,2776.8 1386.2,2776.6 C1389.5,2776.4 1392.8,2773.9 1396.1,2774.4 C1399.4,2774.9 1402.7,2777.9 1406.0,2779.6 C1409.3,2781.2 1412.6,2783.7 1415.9,2784.5 C1419.2,2785.2 1422.5,2783.3 1425.8,2784.1 C1429.1,2784.8 1432.4,2787.6 1435.7,2789.1 C1439.0,2790.5 1442.3,2791.9 1445.6,2792.6 C1448.9,2793.2 1452.2,2793.2 1455.5,2793.1 C1458.8,2793.0 1462.1,2792.8 1465.4,2792.0 C1468.7,2791.2 1472.0,2789.2 1475.3,2788.6 C1478.5,2787.9 1481.8,2787.9 1485.1,2788.1 C1488.4,2788.2 1491.7,2788.9 1495.0,2789.3 C1498.3,2789.7 1501.6,2790.1 1504.9,2790.6 C1508.2,2791.1 1511.5,2792.3 1514.8,2792.4 C1518.1,2792.6 1521.4,2791.9 1524.7,2791.5 C1528.0,2791.0 1531.3,2790.1 1534.6,2789.6 C1537.9,2789.0 1541.2,2788.3 1544.5,2788.2 C1547.8,2788.0 1551.1,2788.2 1554.4,2788.8 C1557.7,2789.3 1561.0,2790.7 1564.3,2791.4 C1567.6,2792.2 1570.9,2793.0 1574.2,2793.2 C1577.5,2793.5 1580.8,2793.4 1584.1,2793.1 C1587.4,2792.7 1590.7,2791.0 1594.0,2791.1 C1597.3,2791.1 1600.6,2793.9 1603.9,2793.4 C1607.2,2792.8 1610.5,2788.2 1613.8,2787.7 C1617.1,2787.2 1622.1,2789.9 1623.7,2790.4"/>
<path stroke="#44b2ba" stroke-width="3.4" d="M247.9,2760.2 C249.5,2761.2 254.5,2764.5 257.8,2766.5 C261.1,2768.6 264.4,2769.9 267.7,2772.6 C271.0,2775.2 274.3,2779.7 277.6,2782.4 C280.9,2785.2 284.2,2787.9 287.5,2789.2 C290.8,2790.5 294.1,2789.8 297.4,2790.1 C300.7,2790.4 304.0,2791.7 307.3,2791.1 C310.6,2790.4 313.9,2787.0 317.2,2786.4 C320.5,2785.9 323.8,2787.1 327.1,2787.7 C330.4,2788.4 333.7,2790.3 337.0,2790.5 C340.3,2790.6 343.6,2789.0 346.9,2788.6 C350.2,2788.2 353.5,2788.3 356.8,2788.0 C360.1,2787.7 363.4,2786.5 366.7,2786.9 C370.0,2787.3 373.3,2789.8 376.6,2790.3 C379.9,2790.8 383.2,2790.0 386.5,2790.1 C389.8,2790.2 393.1,2791.0 396.4,2790.7 C399.7,2790.4 403.0,2789.1 406.3,2788.3 C409.6,2787.6 412.9,2786.5 416.2,2786.3 C419.5,2786.1 422.8,2786.4 426.1,2787.0 C429.4,2787.6 432.7,2789.6 436.0,2789.8 C439.3,2790.0 442.6,2788.2 445.9,2788.0 C449.2,2787.9 452.5,2789.1 455.8,2789.1 C459.1,2789.1 462.4,2788.6 465.7,2788.0 C469.0,2787.4 472.3,2785.7 475.6,2785.5 C478.9,2785.2 482.2,2786.6 485.4,2786.5 C488.7,2786.4 492.0,2785.4 495.3,2785.0 C498.6,2784.6 501.9,2784.7 505.2,2784.2 C508.5,2783.7 511.8,2783.1 515.1,2782.2 C518.4,2781.3 521.7,2778.3 525.0,2778.8 C528.3,2779.3 530.7,2783.2 534.9,2785.1 C539.2,2787.1 546.3,2790.9 550.5,2790.5 C554.7,2790.0 557.6,2786.0 560.4,2782.4 C563.2,2778.8 564.6,2775.2 567.5,2768.9 C570.3,2762.6 574.1,2756.8 577.4,2744.7 C580.7,2732.6 584.0,2711.9 587.3,2696.2 C590.6,2680.5 594.1,2666.2 597.2,2650.5 C600.2,2634.7 603.0,2615.9 605.6,2602.0 C608.2,2588.1 610.4,2576.9 612.7,2567.0 C615.1,2557.1 617.4,2549.0 619.8,2542.8 C622.1,2536.5 624.0,2532.9 626.9,2529.3 C629.7,2525.7 632.0,2520.6 636.7,2521.2 C641.5,2521.8 648.8,2529.9 655.1,2533.0 C661.5,2536.1 668.8,2539.8 674.9,2540.1 C681.1,2540.3 686.5,2536.2 691.9,2534.7 C697.3,2533.1 701.8,2530.4 707.4,2530.6 C713.1,2530.9 719.9,2534.8 725.8,2536.4 C731.7,2537.9 736.0,2540.2 742.8,2540.1 C749.6,2539.9 758.8,2536.9 766.8,2535.4 C774.8,2533.8 782.9,2530.5 790.9,2530.6 C798.9,2530.8 807.1,2534.5 814.9,2536.4 C822.7,2538.3 828.8,2541.5 837.5,2542.1 C846.3,2542.7 858.7,2539.3 867.2,2540.1 C875.7,2540.8 882.1,2544.7 888.4,2546.5 C894.8,2548.2 896.5,2549.5 905.4,2550.5 C914.4,2551.5 934.4,2550.6 942.2,2552.2 C949.9,2553.8 947.8,2556.4 952.1,2560.3 C956.3,2564.1 962.9,2570.1 967.6,2575.1 C972.3,2580.0 976.6,2583.9 980.4,2589.9 C984.1,2595.8 986.7,2602.0 990.2,2610.7 C993.8,2619.5 998.0,2631.8 1001.6,2642.4 C1005.1,2653.0 1007.2,2662.7 1011.5,2674.3 C1015.7,2686.0 1022.3,2701.0 1027.0,2712.0 C1031.7,2723.1 1035.5,2732.2 1039.7,2740.6 C1044.0,2749.1 1047.5,2758.4 1052.5,2762.5 C1057.4,2766.6 1064.7,2764.2 1069.4,2765.2 C1074.1,2766.2 1077.2,2767.9 1080.7,2768.6 C1084.3,2769.3 1087.3,2768.2 1090.6,2769.4 C1093.9,2770.5 1097.2,2773.5 1100.5,2775.5 C1103.8,2777.4 1107.1,2779.8 1110.4,2781.2 C1113.7,2782.6 1117.0,2783.0 1120.3,2783.7 C1123.6,2784.3 1126.9,2785.6 1130.2,2785.2 C1133.5,2784.8 1136.8,2781.3 1140.1,2781.1 C1143.4,2780.9 1146.7,2783.8 1150.0,2783.9 C1153.3,2784.0 1156.6,2781.8 1159.9,2781.5 C1163.2,2781.2 1166.5,2782.0 1169.8,2782.3 C1173.1,2782.5 1176.4,2783.3 1179.7,2783.0 C1183.0,2782.7 1186.3,2780.8 1189.6,2780.4 C1192.9,2780.0 1196.2,2779.9 1199.5,2780.5 C1202.8,2781.1 1206.1,2783.9 1209.4,2784.0 C1212.7,2784.1 1216.0,2782.0 1219.3,2781.1 C1222.6,2780.2 1225.9,2779.9 1229.2,2778.5 C1232.5,2777.2 1235.8,2773.4 1239.1,2773.0 C1242.4,2772.5 1245.7,2775.8 1249.0,2775.9 C1252.3,2776.0 1255.6,2773.5 1258.9,2773.5 C1262.2,2773.4 1265.5,2776.0 1268.8,2775.8 C1272.1,2775.5 1275.4,2772.9 1278.7,2772.1 C1282.0,2771.3 1285.3,2771.6 1288.6,2770.9 C1291.9,2770.2 1295.2,2768.5 1298.5,2767.9 C1301.8,2767.3 1305.1,2767.7 1308.4,2767.3 C1311.7,2766.9 1315.0,2766.2 1318.3,2765.4 C1321.6,2764.7 1324.9,2762.7 1328.2,2762.8 C1331.5,2762.8 1334.8,2765.1 1338.1,2765.9 C1341.4,2766.6 1344.7,2766.2 1348.0,2767.0 C1351.3,2767.8 1354.6,2770.4 1357.9,2770.6 C1361.2,2770.8 1364.5,2768.4 1367.8,2768.2 C1371.1,2768.1 1374.4,2769.2 1377.7,2769.7 C1381.0,2770.2 1384.3,2770.6 1387.6,2771.1 C1390.9,2771.6 1394.2,2771.4 1397.5,2772.6 C1400.8,2773.8 1404.1,2777.2 1407.4,2778.3 C1410.7,2779.4 1414.0,2778.1 1417.3,2779.2 C1420.6,2780.3 1423.9,2783.4 1427.2,2784.9 C1430.5,2786.5 1433.8,2787.3 1437.1,2788.4 C1440.4,2789.5 1443.7,2791.2 1447.0,2791.7 C1450.3,2792.2 1453.6,2791.9 1456.9,2791.3 C1460.2,2790.6 1463.5,2788.7 1466.8,2787.8 C1470.1,2787.0 1473.4,2786.3 1476.7,2786.2 C1480.0,2786.2 1483.3,2787.3 1486.6,2787.5 C1489.9,2787.7 1493.2,2787.5 1496.5,2787.6 C1499.8,2787.6 1503.1,2787.2 1506.4,2787.8 C1509.7,2788.4 1513.0,2791.2 1516.3,2791.3 C1519.6,2791.4 1522.9,2788.6 1526.2,2788.3 C1529.5,2788.1 1532.8,2790.2 1536.1,2789.9 C1539.4,2789.6 1542.7,2786.8 1546.0,2786.5 C1549.2,2786.2 1552.5,2787.4 1555.8,2787.9 C1559.1,2788.3 1562.4,2789.1 1565.7,2789.3 C1569.0,2789.4 1572.3,2788.6 1575.6,2788.9 C1578.9,2789.2 1582.2,2790.9 1585.5,2791.2 C1588.8,2791.4 1592.1,2791.0 1595.4,2790.5 C1598.7,2790.0 1602.0,2788.3 1605.3,2788.2 C1608.6,2788.2 1611.9,2790.2 1615.2,2790.4 C1618.5,2790.6 1623.5,2789.7 1625.1,2789.5"/>
<path stroke="#6e4850" stroke-width="3.4" d="M247.9,2762.7 C249.5,2763.3 254.5,2764.5 257.8,2766.2 C261.1,2768.0 264.4,2770.3 267.7,2773.1 C271.0,2775.9 274.3,2780.4 277.6,2783.0 C280.9,2785.6 284.2,2787.8 287.5,2788.8 C290.8,2789.8 294.1,2789.1 297.4,2789.2 C300.7,2789.4 304.0,2789.9 307.3,2789.8 C310.6,2789.8 313.9,2789.2 317.2,2789.1 C320.5,2789.0 323.8,2789.8 327.1,2789.2 C330.4,2788.6 333.7,2785.7 337.0,2785.7 C340.3,2785.7 343.6,2788.7 346.9,2789.3 C350.2,2789.9 353.5,2789.9 356.8,2789.3 C360.1,2788.6 363.4,2785.9 366.7,2785.3 C370.0,2784.6 373.3,2784.6 376.6,2785.3 C379.9,2786.1 383.2,2789.2 386.5,2789.7 C389.8,2790.2 393.1,2789.3 396.4,2788.4 C399.7,2787.6 403.0,2784.8 406.3,2784.7 C409.6,2784.5 412.9,2787.4 416.2,2787.6 C419.5,2787.9 422.8,2786.4 426.1,2786.0 C429.4,2785.6 432.7,2785.5 436.0,2785.3 C439.3,2785.1 442.6,2784.6 445.9,2785.0 C449.2,2785.4 452.5,2787.9 455.8,2787.7 C459.1,2787.4 462.4,2784.3 465.7,2783.4 C469.0,2782.5 472.3,2782.2 475.6,2782.2 C478.9,2782.2 482.2,2783.3 485.4,2783.4 C488.7,2783.5 492.0,2783.6 495.3,2783.1 C498.6,2782.5 501.9,2781.0 505.2,2780.1 C508.5,2779.2 511.8,2778.2 515.1,2777.6 C518.4,2777.1 521.7,2775.8 525.0,2776.8 C528.3,2777.8 530.7,2781.5 534.9,2783.8 C539.2,2786.1 546.3,2790.5 550.5,2790.5 C554.7,2790.4 557.6,2786.5 560.4,2783.4 C563.2,2780.3 564.6,2777.2 567.5,2771.7 C570.3,2766.2 574.1,2761.1 577.4,2750.6 C580.7,2740.0 584.0,2722.0 587.3,2708.4 C590.6,2694.7 594.1,2682.2 597.2,2668.5 C600.2,2654.8 603.0,2638.4 605.6,2626.3 C608.2,2614.1 610.4,2604.4 612.7,2595.8 C615.1,2587.2 617.4,2580.1 619.8,2574.6 C622.1,2569.2 624.0,2566.0 626.9,2562.9 C629.7,2559.8 632.0,2555.8 636.7,2555.9 C641.5,2555.9 649.2,2561.2 655.1,2563.3 C661.0,2565.4 666.2,2567.9 672.1,2568.3 C678.0,2568.7 684.6,2566.5 690.5,2565.6 C696.4,2564.8 701.8,2563.1 707.4,2563.3 C713.1,2563.5 719.0,2565.6 724.4,2566.7 C729.8,2567.7 732.7,2569.1 740.0,2569.3 C747.3,2569.6 759.1,2568.5 768.2,2568.0 C777.4,2567.5 783.6,2565.9 795.1,2566.3 C806.7,2566.7 825.5,2569.1 837.5,2570.4 C849.6,2571.6 857.8,2572.6 867.2,2574.1 C876.7,2575.5 881.6,2578.3 894.1,2579.1 C906.6,2579.9 932.0,2578.0 942.2,2579.1 C952.3,2580.2 950.4,2581.6 954.9,2585.5 C959.4,2589.4 964.1,2596.3 969.0,2602.3 C974.0,2608.3 979.9,2613.8 984.6,2621.5 C989.3,2629.2 993.1,2639.0 997.3,2648.8 C1001.6,2658.6 1005.3,2669.9 1010.0,2680.4 C1014.8,2690.9 1020.6,2702.0 1025.6,2712.0 C1030.5,2722.1 1035.3,2732.2 1039.7,2740.6 C1044.2,2749.1 1048.0,2758.1 1052.5,2762.5 C1056.9,2766.9 1062.4,2765.6 1066.6,2766.9 C1070.8,2768.2 1074.6,2770.3 1077.9,2770.3 C1081.2,2770.2 1083.3,2767.2 1086.4,2766.8 C1089.5,2766.3 1093.0,2766.6 1096.3,2767.5 C1099.6,2768.5 1102.9,2770.0 1106.2,2772.4 C1109.5,2774.8 1112.8,2780.2 1116.1,2781.9 C1119.4,2783.6 1122.7,2782.8 1126.0,2782.6 C1129.3,2782.4 1132.6,2780.9 1135.9,2780.7 C1139.2,2780.6 1142.5,2782.2 1145.8,2781.8 C1149.1,2781.4 1152.4,2779.1 1155.7,2778.3 C1159.0,2777.6 1162.3,2776.8 1165.6,2777.4 C1168.9,2777.9 1172.2,2780.8 1175.5,2781.6 C1178.8,2782.4 1182.1,2782.2 1185.4,2782.0 C1188.7,2781.8 1192.0,2780.1 1195.3,2780.5 C1198.6,2781.0 1201.9,2784.4 1205.2,2784.8 C1208.5,2785.2 1211.8,2784.2 1215.1,2782.8 C1218.4,2781.5 1221.7,2778.4 1225.0,2776.7 C1228.3,2775.0 1231.6,2773.6 1234.9,2772.8 C1238.2,2772.0 1241.5,2771.7 1244.8,2772.0 C1248.1,2772.4 1251.4,2775.0 1254.7,2774.9 C1258.0,2774.8 1261.3,2771.3 1264.6,2771.4 C1267.9,2771.5 1271.2,2775.6 1274.5,2775.4 C1277.8,2775.3 1281.1,2771.2 1284.4,2770.6 C1287.7,2769.9 1291.0,2772.0 1294.3,2771.5 C1297.6,2771.0 1300.9,2769.0 1304.2,2767.3 C1307.5,2765.7 1310.8,2761.7 1314.1,2761.5 C1317.4,2761.3 1320.7,2765.8 1324.0,2766.0 C1327.3,2766.1 1330.6,2761.9 1333.9,2762.3 C1337.1,2762.6 1340.4,2767.8 1343.7,2768.2 C1347.0,2768.5 1350.3,2764.0 1353.6,2764.4 C1356.9,2764.8 1360.2,2769.9 1363.5,2770.7 C1366.8,2771.6 1370.1,2769.6 1373.4,2769.4 C1376.7,2769.3 1380.0,2769.6 1383.3,2769.8 C1386.6,2770.0 1389.9,2770.0 1393.2,2770.6 C1396.5,2771.1 1399.8,2771.8 1403.1,2773.1 C1406.4,2774.3 1409.7,2776.5 1413.0,2778.2 C1416.3,2779.9 1419.6,2782.1 1422.9,2783.3 C1426.2,2784.6 1429.5,2785.4 1432.8,2785.7 C1436.1,2786.0 1439.4,2784.4 1442.7,2785.0 C1446.0,2785.5 1449.3,2788.1 1452.6,2788.9 C1455.9,2789.6 1459.2,2789.6 1462.5,2789.2 C1465.8,2788.8 1469.1,2787.2 1472.4,2786.6 C1475.7,2786.0 1479.0,2785.3 1482.3,2785.4 C1485.6,2785.6 1488.9,2787.5 1492.2,2787.7 C1495.5,2787.9 1498.8,2786.2 1502.1,2786.5 C1505.4,2786.9 1508.7,2789.8 1512.0,2789.8 C1515.3,2789.9 1518.6,2786.9 1521.9,2786.7 C1525.2,2786.5 1528.5,2788.7 1531.8,2788.6 C1535.1,2788.6 1538.4,2786.4 1541.7,2786.3 C1545.0,2786.2 1548.3,2787.5 1551.6,2788.0 C1554.9,2788.6 1558.2,2789.7 1561.5,2789.7 C1564.8,2789.6 1568.1,2787.7 1571.4,2787.7 C1574.7,2787.7 1578.0,2789.1 1581.3,2789.6 C1584.6,2790.0 1587.9,2790.6 1591.2,2790.3 C1594.5,2790.1 1597.8,2788.8 1601.1,2788.1 C1604.4,2787.4 1607.7,2785.8 1611.0,2786.1 C1614.3,2786.4 1619.2,2789.3 1620.9,2789.9"/>
<path stroke="#888826" stroke-width="3.4" d="M247.9,2757.0 C249.5,2758.2 254.5,2761.7 257.8,2764.2 C261.1,2766.6 264.4,2768.8 267.7,2771.8 C271.0,2774.9 274.3,2780.0 277.6,2782.4 C280.9,2784.8 284.2,2785.9 287.5,2786.1 C290.8,2786.3 294.1,2783.7 297.4,2783.6 C300.7,2783.6 304.0,2785.3 307.3,2785.7 C310.6,2786.1 313.9,2786.2 317.2,2786.0 C320.5,2785.8 323.8,2784.5 327.1,2784.5 C330.4,2784.6 333.7,2785.9 337.0,2786.3 C340.3,2786.8 343.6,2787.6 346.9,2787.3 C350.2,2786.9 353.5,2784.2 356.8,2784.3 C360.1,2784.3 363.4,2787.9 366.7,2787.9 C370.0,2787.8 373.3,2784.6 376.6,2784.0 C379.9,2783.3 383.2,2783.7 386.5,2784.0 C389.8,2784.3 393.1,2785.4 396.4,2785.7 C399.7,2786.0 403.0,2785.3 406.3,2785.7 C409.6,2786.1 412.9,2787.7 416.2,2787.9 C419.5,2788.1 422.8,2787.7 426.1,2787.0 C429.4,2786.2 432.7,2784.0 436.0,2783.3 C439.3,2782.7 442.6,2783.1 445.9,2783.1 C449.2,2783.1 452.5,2782.8 455.8,2783.1 C459.1,2783.4 462.4,2785.4 465.7,2785.1 C469.0,2784.8 472.3,2782.2 475.6,2781.2 C478.9,2780.2 482.2,2779.4 485.4,2779.0 C488.7,2778.6 492.0,2778.8 495.3,2778.7 C498.6,2778.7 501.9,2778.8 505.2,2778.9 C508.5,2779.0 511.8,2779.2 515.1,2779.1 C518.4,2778.9 521.7,2777.5 525.0,2778.1 C528.3,2778.7 530.7,2780.5 534.9,2782.6 C539.2,2784.6 546.3,2790.2 550.5,2790.5 C554.7,2790.7 557.6,2786.9 560.4,2784.1 C563.2,2781.3 564.6,2778.5 567.5,2773.6 C570.3,2768.6 574.1,2764.1 577.4,2754.6 C580.7,2745.1 584.0,2728.9 587.3,2716.6 C590.6,2704.3 594.1,2693.0 597.2,2680.7 C600.2,2668.4 603.0,2653.6 605.6,2642.7 C608.2,2631.8 610.4,2623.0 612.7,2615.3 C615.1,2607.6 617.4,2601.2 619.8,2596.3 C622.1,2591.4 624.0,2588.6 626.9,2585.8 C629.7,2583.0 632.0,2579.3 636.7,2579.4 C641.5,2579.6 649.2,2584.6 655.1,2586.8 C661.0,2589.1 666.2,2592.6 672.1,2592.9 C678.0,2593.2 684.8,2589.9 690.5,2588.5 C696.1,2587.1 700.4,2584.4 706.0,2584.5 C711.7,2584.6 718.8,2587.8 724.4,2589.2 C730.1,2590.6 732.7,2592.7 740.0,2592.9 C747.3,2593.1 759.1,2591.1 768.2,2590.2 C777.4,2589.4 783.6,2587.4 795.1,2587.9 C806.7,2588.3 825.5,2591.7 837.5,2592.9 C849.6,2594.1 857.8,2594.2 867.2,2594.9 C876.7,2595.6 881.6,2596.7 894.1,2597.3 C906.6,2597.9 931.8,2597.1 942.2,2598.6 C952.5,2600.2 951.1,2602.9 956.3,2606.7 C961.5,2610.5 967.9,2615.6 973.3,2621.5 C978.7,2627.5 984.1,2634.4 988.8,2642.4 C993.5,2650.4 997.1,2660.4 1001.6,2669.6 C1006.0,2678.8 1011.0,2688.0 1015.7,2697.6 C1020.4,2707.1 1025.4,2718.1 1029.8,2726.8 C1034.3,2735.6 1038.8,2744.1 1042.6,2750.1 C1046.3,2756.0 1048.5,2760.0 1052.5,2762.5 C1056.5,2765.0 1062.4,2764.2 1066.6,2765.2 C1070.8,2766.2 1074.6,2768.2 1077.9,2768.6 C1081.2,2768.9 1083.3,2767.3 1086.4,2767.2 C1089.5,2767.1 1093.0,2766.8 1096.3,2768.1 C1099.6,2769.5 1102.9,2773.9 1106.2,2775.2 C1109.5,2776.5 1112.8,2775.3 1116.1,2776.1 C1119.4,2776.9 1122.7,2778.7 1126.0,2780.0 C1129.3,2781.4 1132.6,2784.3 1135.9,2783.9 C1139.2,2783.6 1142.5,2779.0 1145.8,2778.1 C1149.1,2777.2 1152.4,2778.3 1155.7,2778.5 C1159.0,2778.8 1162.3,2780.0 1165.6,2779.7 C1168.9,2779.4 1172.2,2776.5 1175.5,2776.6 C1178.8,2776.6 1182.1,2779.5 1185.4,2780.0 C1188.7,2780.6 1192.0,2779.8 1195.3,2780.1 C1198.6,2780.4 1201.9,2782.3 1205.2,2781.9 C1208.5,2781.6 1211.8,2778.8 1215.1,2777.9 C1218.4,2777.1 1221.7,2777.5 1225.0,2777.1 C1228.3,2776.7 1231.6,2776.8 1234.9,2775.6 C1238.2,2774.5 1241.5,2770.9 1244.8,2770.4 C1248.1,2769.9 1251.4,2772.4 1254.7,2772.4 C1258.0,2772.5 1261.3,2771.2 1264.6,2770.8 C1267.9,2770.5 1271.2,2770.3 1274.5,2770.6 C1277.8,2770.9 1281.1,2773.3 1284.4,2772.6 C1287.7,2772.0 1291.0,2767.7 1294.3,2766.6 C1297.6,2765.4 1300.9,2766.6 1304.2,2765.8 C1307.5,2765.1 1310.8,2762.8 1314.1,2761.9 C1317.4,2761.1 1320.7,2760.3 1324.0,2760.8 C1327.3,2761.3 1330.6,2764.1 1333.9,2765.0 C1337.1,2765.8 1340.4,2765.8 1343.7,2765.9 C1347.0,2766.0 1350.3,2765.7 1353.6,2765.5 C1356.9,2765.4 1360.2,2764.7 1363.5,2765.1 C1366.8,2765.6 1370.1,2766.8 1373.4,2768.1 C1376.7,2769.3 1380.0,2771.7 1383.3,2772.6 C1386.6,2773.5 1389.9,2773.5 1393.2,2773.5 C1396.5,2773.5 1399.8,2772.2 1403.1,2772.7 C1406.4,2773.2 1409.7,2774.6 1413.0,2776.4 C1416.3,2778.2 1419.6,2782.0 1422.9,2783.5 C1426.2,2785.1 1429.5,2784.7 1432.8,2785.6 C1436.1,2786.4 1439.4,2788.8 1442.7,2788.6 C1446.0,2788.5 1449.3,2785.2 1452.6,2784.7 C1455.9,2784.1 1459.2,2785.5 1462.5,2785.4 C1465.8,2785.2 1469.1,2783.2 1472.4,2783.6 C1475.7,2784.0 1479.0,2787.2 1482.3,2787.7 C1485.6,2788.2 1488.9,2786.4 1492.2,2786.7 C1495.5,2787.0 1498.8,2789.6 1502.1,2789.4 C1505.4,2789.3 1508.7,2786.0 1512.0,2785.8 C1515.3,2785.6 1518.6,2788.3 1521.9,2788.2 C1525.2,2788.1 1528.5,2785.6 1531.8,2785.2 C1535.1,2784.8 1538.4,2785.3 1541.7,2785.5 C1545.0,2785.7 1548.3,2786.2 1551.6,2786.5 C1554.9,2786.7 1558.2,2786.8 1561.5,2787.0 C1564.8,2787.3 1568.1,2787.9 1571.4,2788.0 C1574.7,2788.1 1578.0,2788.1 1581.3,2787.8 C1584.6,2787.4 1587.9,2785.8 1591.2,2785.8 C1594.5,2785.8 1597.8,2787.9 1601.1,2787.6 C1604.4,2787.4 1607.7,2784.4 1611.0,2784.5 C1614.3,2784.6 1619.2,2787.8 1620.9,2788.5"/>
<path stroke="#d2783c" stroke-width="3.6" d="M247.9,2756.1 C249.5,2758.1 254.5,2765.0 257.8,2768.1 C261.1,2771.3 264.4,2771.7 267.7,2774.9 C271.0,2778.0 274.3,2784.1 277.6,2787.0 C280.9,2789.9 284.2,2791.2 287.5,2792.2 C290.8,2793.3 294.1,2793.4 297.4,2793.4 C300.7,2793.3 304.0,2791.7 307.3,2791.9 C310.6,2792.1 313.9,2794.3 317.2,2794.4 C320.5,2794.5 323.8,2792.8 327.1,2792.6 C330.4,2792.4 333.7,2792.8 337.0,2793.1 C340.3,2793.4 343.6,2794.9 346.9,2794.5 C350.2,2794.0 353.5,2791.2 356.8,2790.4 C360.1,2789.7 363.4,2789.3 366.7,2789.9 C370.0,2790.5 373.3,2793.8 376.6,2794.0 C379.9,2794.3 383.2,2791.8 386.5,2791.4 C389.8,2791.0 393.1,2791.7 396.4,2791.9 C399.7,2792.0 403.0,2792.4 406.3,2792.3 C409.6,2792.1 412.9,2791.4 416.2,2791.1 C419.5,2790.8 422.8,2790.2 426.1,2790.4 C429.4,2790.6 432.7,2791.9 436.0,2792.1 C439.3,2792.2 442.6,2791.5 445.9,2791.1 C449.2,2790.7 452.5,2790.5 455.8,2789.8 C459.1,2789.0 462.4,2787.1 465.7,2786.5 C469.0,2785.9 472.3,2786.2 475.6,2786.1 C478.9,2786.1 482.2,2786.0 485.4,2786.2 C488.7,2786.3 492.0,2787.4 495.3,2787.0 C498.6,2786.6 501.9,2784.4 505.2,2783.6 C508.5,2782.9 511.8,2782.6 515.1,2782.2 C518.4,2781.9 521.7,2780.6 525.0,2781.6 C528.3,2782.7 530.7,2786.9 534.9,2788.4 C539.2,2789.9 546.3,2791.1 550.5,2790.5 C554.7,2789.8 557.6,2787.2 560.4,2784.6 C563.2,2782.0 564.6,2779.4 567.5,2774.9 C570.3,2770.4 574.1,2766.2 577.4,2757.4 C580.7,2748.7 584.0,2733.8 587.3,2722.5 C590.6,2711.2 594.1,2700.8 597.2,2689.5 C600.2,2678.1 603.0,2664.6 605.6,2654.5 C608.2,2644.5 610.4,2636.4 612.7,2629.3 C615.1,2622.2 617.4,2616.3 619.8,2611.8 C622.1,2607.3 624.0,2604.7 626.9,2602.1 C629.7,2599.5 632.0,2595.7 636.7,2596.3 C641.5,2596.8 648.8,2602.5 655.1,2605.4 C661.5,2608.2 669.0,2612.5 674.9,2613.1 C680.8,2613.7 685.3,2610.1 690.5,2608.7 C695.7,2607.3 700.4,2604.6 706.0,2604.7 C711.7,2604.8 718.8,2608.2 724.4,2609.4 C730.1,2610.6 732.9,2611.9 740.0,2611.7 C747.0,2611.6 757.6,2609.7 766.8,2608.7 C776.0,2607.7 787.6,2605.6 795.1,2605.7 C802.7,2605.8 806.4,2608.2 812.1,2609.4 C817.7,2610.6 823.2,2613.1 829.1,2613.1 C834.9,2613.1 841.5,2610.6 847.4,2609.4 C853.3,2608.2 858.0,2605.4 864.4,2605.7 C870.8,2606.0 878.8,2609.3 885.6,2611.1 C892.4,2612.8 896.0,2614.9 905.4,2616.1 C914.8,2617.4 934.2,2617.9 942.2,2618.5 C950.2,2619.1 949.9,2619.0 953.5,2619.8 C957.0,2620.7 958.2,2619.8 963.4,2623.5 C968.6,2627.3 978.7,2635.7 984.6,2642.4 C990.5,2649.0 993.5,2654.8 998.7,2663.6 C1003.9,2672.4 1010.3,2684.7 1015.7,2695.2 C1021.1,2705.8 1026.5,2718.0 1031.3,2726.8 C1036.0,2735.7 1040.4,2742.1 1044.0,2748.0 C1047.5,2754.0 1048.2,2759.9 1052.5,2762.5 C1056.7,2765.1 1063.3,2762.1 1069.4,2763.5 C1075.6,2764.9 1084.0,2768.4 1089.2,2770.9 C1094.4,2773.5 1097.0,2776.9 1100.5,2778.8 C1104.1,2780.6 1107.1,2780.5 1110.4,2781.9 C1113.7,2783.4 1117.0,2786.8 1120.3,2787.4 C1123.6,2788.0 1126.9,2786.2 1130.2,2785.7 C1133.5,2785.3 1136.8,2784.7 1140.1,2784.4 C1143.4,2784.1 1146.7,2784.3 1150.0,2784.0 C1153.3,2783.6 1156.6,2782.8 1159.9,2782.3 C1163.2,2781.7 1166.5,2780.7 1169.8,2780.6 C1173.1,2780.6 1176.4,2781.2 1179.7,2781.8 C1183.0,2782.5 1186.3,2783.6 1189.6,2784.4 C1192.9,2785.2 1196.2,2786.1 1199.5,2786.7 C1202.8,2787.4 1206.1,2788.5 1209.4,2788.3 C1212.7,2788.2 1216.0,2786.7 1219.3,2785.8 C1222.6,2784.9 1225.9,2784.1 1229.2,2782.7 C1232.5,2781.3 1235.8,2778.4 1239.1,2777.3 C1242.4,2776.2 1245.7,2776.3 1249.0,2776.1 C1252.3,2776.0 1255.6,2776.6 1258.9,2776.3 C1262.2,2776.0 1265.5,2774.6 1268.8,2774.4 C1272.1,2774.2 1275.4,2775.6 1278.7,2775.1 C1282.0,2774.7 1285.3,2772.7 1288.6,2771.7 C1291.9,2770.7 1295.2,2769.9 1298.5,2769.3 C1301.8,2768.6 1305.1,2767.8 1308.4,2767.9 C1311.7,2768.0 1315.0,2770.2 1318.3,2770.1 C1321.6,2770.0 1324.9,2768.0 1328.2,2767.3 C1331.5,2766.7 1334.8,2765.6 1338.1,2766.4 C1341.4,2767.2 1344.7,2771.6 1348.0,2772.2 C1351.3,2772.9 1354.6,2770.3 1357.9,2770.3 C1361.2,2770.3 1364.5,2771.0 1367.8,2772.1 C1371.1,2773.3 1374.4,2776.2 1377.7,2777.2 C1381.0,2778.2 1384.3,2778.1 1387.6,2778.2 C1390.9,2778.3 1394.2,2777.6 1397.5,2778.1 C1400.8,2778.6 1404.1,2780.4 1407.4,2781.2 C1410.7,2782.1 1414.0,2781.4 1417.3,2783.0 C1420.6,2784.6 1423.9,2789.7 1427.2,2790.9 C1430.5,2792.2 1433.8,2790.4 1437.1,2790.7 C1440.4,2790.9 1443.7,2792.6 1447.0,2792.3 C1450.3,2792.1 1453.6,2789.2 1456.9,2789.1 C1460.2,2788.9 1463.5,2791.4 1466.8,2791.5 C1470.1,2791.7 1473.4,2790.4 1476.7,2790.2 C1480.0,2789.9 1483.3,2789.8 1486.6,2790.0 C1489.9,2790.2 1493.2,2790.7 1496.5,2791.3 C1499.8,2791.9 1503.1,2793.1 1506.4,2793.5 C1509.7,2794.0 1513.0,2794.2 1516.3,2793.8 C1519.6,2793.4 1522.9,2791.5 1526.2,2791.1 C1529.5,2790.7 1532.8,2791.1 1536.1,2791.5 C1539.4,2791.9 1542.7,2793.7 1546.0,2793.7 C1549.2,2793.7 1552.5,2792.0 1555.8,2791.6 C1559.1,2791.2 1562.4,2790.8 1565.7,2791.2 C1569.0,2791.6 1572.3,2793.9 1575.6,2793.8 C1578.9,2793.8 1582.2,2791.0 1585.5,2791.0 C1588.8,2791.0 1592.1,2793.3 1595.4,2793.8 C1598.7,2794.3 1602.0,2794.6 1605.3,2793.8 C1608.6,2793.0 1611.9,2789.2 1615.2,2789.1 C1618.5,2789.0 1623.5,2792.4 1625.1,2793.1"/>
</g>
<rect x="1312" y="1681" width="288.5" height="621" fill="#bebebe"/>
<rect x="1296" y="1665" width="288.5" height="621" fill="#fff"/>
<g style="font-family:'Liberation Serif',serif" font-size="50" fill="#000" stroke="#fff" stroke-width="0.9">
<line x1="1328" y1="1698.2" x2="1388" y2="1698.2" stroke="#464646" stroke-width="3"/>
<text x="1425" y="1715.2">0min</text>
<line x1="1328" y1="1759.5" x2="1388" y2="1759.5" stroke="#c34d4d" stroke-width="5"/>
<text x="1425" y="1776.5">60min</text>
<line x1="1328" y1="1820.8" x2="1388" y2="1820.8" stroke="#3065b0" stroke-width="2.8"/>
<text x="1425" y="1837.8">120min</text>
<line x1="1328" y1="1882.1" x2="1388" y2="1882.1" stroke="#3c9e6a" stroke-width="5"/>
<text x="1425" y="1899.1">180min</text>
<line x1="1328" y1="1943.4" x2="1388" y2="1943.4" stroke="#ae86d8" stroke-width="3"/>
<text x="1425" y="1960.4">300min</text>
<line x1="1328" y1="2004.7" x2="1388" y2="2004.7" stroke="#b9993a" stroke-width="5"/>
<text x="1425" y="2021.7">420min</text>
<line x1="1328" y1="2066.0" x2="1388" y2="2066.0" stroke="#44b2ba" stroke-width="4"/>
<text x="1425" y="2083.0">540min</text>
<line x1="1328" y1="2127.3" x2="1388" y2="2127.3" stroke="#6e4850" stroke-width="5"/>
<text x="1425" y="2144.3">660min</text>
<line x1="1328" y1="2188.6" x2="1388" y2="2188.6" stroke="#888826" stroke-width="5"/>
<text x="1425" y="2205.6">780min</text>
<line x1="1328" y1="2249.9" x2="1388" y2="2249.9" stroke="#d2783c" stroke-width="5"/>
<text x="1425" y="2266.9">900min</text>
</g>
<rect x="238.0" y="1617.6" width="1414.0" height="1177.9" fill="none" stroke="#000" stroke-width="4"/>
<g style="font-family:'Liberation Serif',serif" font-size="60" fill="#000" stroke="#fff" stroke-width="0.9">
<text x="211" y="2813.0" text-anchor="end">0</text>
<text x="211" y="2644.7" text-anchor="end">50</text>
<text x="211" y="2476.5" text-anchor="end">100</text>
<text x="211" y="2308.2" text-anchor="end">150</text>
<text x="211" y="2139.9" text-anchor="end">200</text>
<text x="211" y="1971.6" text-anchor="end">250</text>
<text x="211" y="1803.4" text-anchor="end">300</text>
<text x="211" y="1635.1" text-anchor="end">350</text>
<text x="238.0" y="2866" text-anchor="middle">0</text>
<text x="520.8" y="2866" text-anchor="middle">20</text>
<text x="803.6" y="2866" text-anchor="middle">40</text>
<text x="1086.4" y="2866" text-anchor="middle">60</text>
<text x="1369.2" y="2866" text-anchor="middle">80</text>
<text x="1652.0" y="2866" text-anchor="middle">100</text>
</g>
<text style="font-family:'Liberation Serif',serif" font-size="60" stroke="#fff" stroke-width="0.9" x="995.5" y="2945.4" text-anchor="middle">Position (mm)</text>
<text style="font-family:'Liberation Serif',serif" font-size="66.1" stroke="#fff" stroke-width="0.9" transform="translate(80.4,2161.5) rotate(-90)" text-anchor="middle">Signal amplitude</text>
<text style="font-family:'Liberation Serif',serif" font-size="85" x="859" y="3063.5" text-anchor="middle">(<tspan font-weight="bold">b</tspan>)</text>
</svg></body></html>
